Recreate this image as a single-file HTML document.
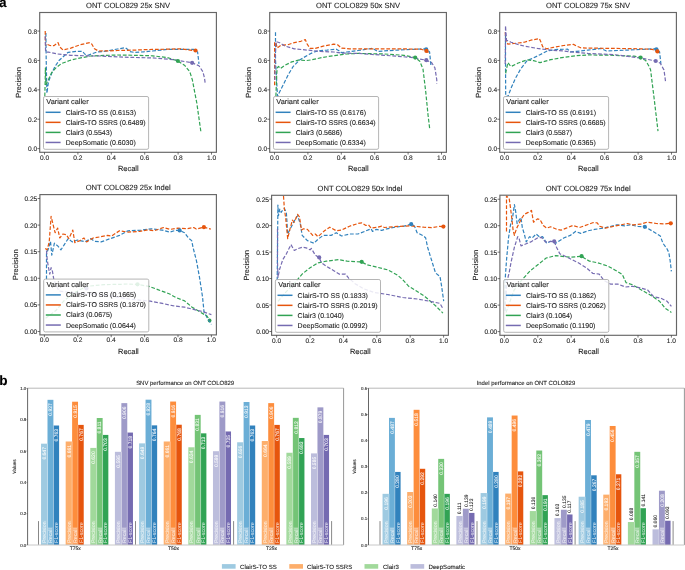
<!DOCTYPE html>
<html><head><meta charset="utf-8"><style>
html,body{margin:0;padding:0;background:#fff;}
svg{display:block;font-family:"Liberation Sans", sans-serif;text-rendering:geometricPrecision;}
</style></head><body>
<svg style="will-change:transform" width="685" height="570" viewBox="0 0 685 570" font-family='"Liberation Sans", sans-serif' fill="#222222">
<rect width="685" height="570" fill="#fff"/>
<g>
<g fill="none" stroke-width="1.2" stroke-dasharray="3.8 1.8" stroke-linejoin="round">
<path d="M45.9,33.0 L46.2,60.0 L46.9,93.2 L48.5,81.6 L51.7,73.2 L54.8,66.8 L59.0,60.5 L65.4,54.7 L68.2,52.3 L76.1,51.4 L82.7,51.4 L84.6,54.0 L87.9,55.3 L97.1,52.0 L105.3,51.2 L110.5,50.3 L117.5,49.0 L125.4,47.7 L127.1,49.0 L129.8,51.6 L135.0,52.5 L143.8,51.8 L152.5,51.0 L167.4,49.4 L193.7,49.4 L197.6,52.0 L199.0,63.9" stroke="#3182bd"/>
<path d="M45.2,31.0 L45.4,40.0 L45.6,45.5 L47.2,44.4 L50.0,45.5 L53.8,45.7 L58.0,42.6 L59.7,46.8 L63.0,50.0 L70.8,48.1 L80.0,44.8 L89.9,42.6 L91.9,44.2 L94.5,48.8 L98.4,51.0 L108.8,50.9 L117.5,50.5 L126.3,50.3 L135.0,50.1 L143.8,49.7 L152.5,49.4 L167.4,49.2 L180.6,48.8 L195.3,50.7" stroke="#e6550d"/>
<path d="M44.8,96.3 L45.2,80.0 L45.4,67.9 L45.9,84.7 L48.5,79.5 L51.7,72.6 L55.9,67.9 L61.2,63.7 L69.6,60.5 L78.0,58.4 L90.6,56.0 L100.0,55.6 L117.5,55.0 L135.0,55.3 L152.5,55.8 L167.4,57.6 L177.9,61.0 L184.5,65.2 L189.8,71.8 L192.4,80.0 L196.8,103.0 L201.0,132.6" stroke="#31a354"/>
<path d="M45.2,36.3 L45.6,52.0 L48.5,52.1 L57.7,54.0 L70.8,55.3 L90.6,56.0 L100.0,56.0 L117.5,56.9 L135.0,57.5 L152.5,57.9 L174.0,59.7 L192.1,62.8 L199.0,65.8 L202.9,71.8 L204.5,78.0 L205.2,83.4" stroke="#756bb1"/>
</g>
<circle cx="195.5" cy="50.5" r="2.1" fill="#e6550d"/>
<circle cx="177.9" cy="61.0" r="2.1" fill="#31a354"/>
<circle cx="192.1" cy="62.8" r="2.1" fill="#756bb1"/>
<rect x="43.50" y="96.50" width="105.10" height="52.80" rx="1.6" fill="#fff" fill-opacity="0.85" stroke="#adadad" stroke-width="0.9"/>
<text x="46.30" y="104.30" font-size="7.35" stroke="#222222" stroke-width="0.1">Variant caller</text>
<line x1="45.60" y1="112.30" x2="60.60" y2="112.30" stroke="#3182bd" stroke-width="1.5" />
<text x="65.70" y="114.75" font-size="7.0" stroke="#222222" stroke-width="0.1">ClairS-TO SS (0.6153)</text>
<line x1="45.60" y1="122.35" x2="60.60" y2="122.35" stroke="#e6550d" stroke-width="1.5" />
<text x="65.70" y="124.80" font-size="7.0" stroke="#222222" stroke-width="0.1">ClairS-TO SSRS (0.6489)</text>
<line x1="45.60" y1="132.40" x2="60.60" y2="132.40" stroke="#31a354" stroke-width="1.5" />
<text x="65.70" y="134.85" font-size="7.0" stroke="#222222" stroke-width="0.1">Clair3 (0.5543)</text>
<line x1="45.60" y1="142.45" x2="60.60" y2="142.45" stroke="#756bb1" stroke-width="1.5" />
<text x="65.70" y="144.90" font-size="7.0" stroke="#222222" stroke-width="0.1">DeepSomatic (0.6030)</text>
<rect x="39.70" y="12.50" width="176.70" height="139.80" fill="none" stroke="#666666" stroke-width="1.15"/>
<text x="128.05" y="8.30" font-size="7.58" stroke="#222222" stroke-width="0.1" text-anchor="middle">ONT COLO829 25x SNV</text>
<line x1="44.50" y1="152.30" x2="44.50" y2="154.60" stroke="#3a3a3a" stroke-width="0.7" />
<text x="44.50" y="159.60" font-size="6.6" stroke="#222222" stroke-width="0.1" text-anchor="middle">0.0</text>
<line x1="77.90" y1="152.30" x2="77.90" y2="154.60" stroke="#3a3a3a" stroke-width="0.7" />
<text x="77.90" y="159.60" font-size="6.6" stroke="#222222" stroke-width="0.1" text-anchor="middle">0.2</text>
<line x1="111.30" y1="152.30" x2="111.30" y2="154.60" stroke="#3a3a3a" stroke-width="0.7" />
<text x="111.30" y="159.60" font-size="6.6" stroke="#222222" stroke-width="0.1" text-anchor="middle">0.4</text>
<line x1="144.70" y1="152.30" x2="144.70" y2="154.60" stroke="#3a3a3a" stroke-width="0.7" />
<text x="144.70" y="159.60" font-size="6.6" stroke="#222222" stroke-width="0.1" text-anchor="middle">0.6</text>
<line x1="178.10" y1="152.30" x2="178.10" y2="154.60" stroke="#3a3a3a" stroke-width="0.7" />
<text x="178.10" y="159.60" font-size="6.6" stroke="#222222" stroke-width="0.1" text-anchor="middle">0.8</text>
<line x1="211.50" y1="152.30" x2="211.50" y2="154.60" stroke="#3a3a3a" stroke-width="0.7" />
<text x="211.50" y="159.60" font-size="6.6" stroke="#222222" stroke-width="0.1" text-anchor="middle">1.0</text>
<text x="128.35" y="171.00" font-size="7.45" stroke="#222222" stroke-width="0.1" text-anchor="middle">Recall</text>
<line x1="37.40" y1="148.60" x2="39.70" y2="148.60" stroke="#3a3a3a" stroke-width="0.7" />
<text x="37.10" y="151.10" font-size="6.6" stroke="#222222" stroke-width="0.1" text-anchor="end">0.0</text>
<line x1="37.40" y1="119.22" x2="39.70" y2="119.22" stroke="#3a3a3a" stroke-width="0.7" />
<text x="37.10" y="121.72" font-size="6.6" stroke="#222222" stroke-width="0.1" text-anchor="end">0.2</text>
<line x1="37.40" y1="89.84" x2="39.70" y2="89.84" stroke="#3a3a3a" stroke-width="0.7" />
<text x="37.10" y="92.34" font-size="6.6" stroke="#222222" stroke-width="0.1" text-anchor="end">0.4</text>
<line x1="37.40" y1="60.46" x2="39.70" y2="60.46" stroke="#3a3a3a" stroke-width="0.7" />
<text x="37.10" y="62.96" font-size="6.6" stroke="#222222" stroke-width="0.1" text-anchor="end">0.6</text>
<line x1="37.40" y1="31.08" x2="39.70" y2="31.08" stroke="#3a3a3a" stroke-width="0.7" />
<text x="37.10" y="33.58" font-size="6.6" stroke="#222222" stroke-width="0.1" text-anchor="end">0.8</text>
<text x="21.30" y="82.40" font-size="7.45" stroke="#222222" stroke-width="0.1" text-anchor="middle" transform="rotate(-90 21.30 82.40)">Precision</text>
</g>
<g>
<g fill="none" stroke-width="1.2" stroke-dasharray="3.8 1.8" stroke-linejoin="round">
<path d="M275.5,32.3 L275.5,60.0 L277.5,96.3 L279.8,91.6 L283.8,83.7 L288.5,74.2 L293.3,66.3 L299.6,60.0 L307.4,55.3 L314.0,52.0 L320.6,50.5 L327.1,50.1 L336.3,49.2 L339.0,50.7 L341.6,52.7 L346.8,52.0 L358.0,50.5 L372.5,48.4 L377.7,51.4 L397.4,50.1 L417.1,49.2 L426.3,48.8 L429.6,52.0 L430.9,65.2" stroke="#3182bd"/>
<path d="M274.6,85.3 L274.6,60.0 L274.6,42.8 L275.9,42.2 L277.2,48.1 L281.1,45.2 L287.7,44.8 L294.3,42.6 L300.8,41.3 L305.4,39.6 L306.8,43.5 L310.0,48.4 L315.3,48.4 L323.2,46.1 L333.7,44.2 L337.6,44.8 L341.6,48.1 L349.5,48.8 L358.0,48.8 L397.4,48.8 L421.1,49.2 L426.3,51.0 L429.6,53.4" stroke="#e6550d"/>
<path d="M275.9,96.3 L276.7,74.2 L277.2,67.8 L278.5,66.5 L280.5,68.5 L285.1,65.2 L291.7,61.9 L299.5,59.9 L306.1,60.6 L311.4,59.9 L323.2,57.3 L336.3,55.3 L346.8,54.0 L358.0,53.4 L384.3,54.0 L404.0,55.3 L415.2,57.6 L419.8,61.2 L423.0,69.1 L425.8,92.4 L428.0,114.7 L429.8,129.6" stroke="#31a354"/>
<path d="M274.8,80.0 L275.2,60.0 L275.9,41.5 L279.8,42.8 L285.1,46.1 L294.3,48.8 L307.4,50.1 L320.6,51.4 L333.7,52.0 L341.6,53.1 L358.0,53.4 L384.3,55.3 L410.6,57.3 L426.3,60.2 L431.6,62.6 L434.9,67.8 L436.8,80.0 L436.7,83.4" stroke="#756bb1"/>
</g>
<circle cx="426.2" cy="49.4" r="2.1" fill="#3182bd"/>
<circle cx="426.4" cy="50.9" r="2.1" fill="#e6550d"/>
<circle cx="415.2" cy="57.6" r="2.1" fill="#31a354"/>
<circle cx="426.3" cy="60.2" r="2.1" fill="#756bb1"/>
<rect x="273.50" y="96.50" width="105.10" height="52.80" rx="1.6" fill="#fff" fill-opacity="0.85" stroke="#adadad" stroke-width="0.9"/>
<text x="276.30" y="104.30" font-size="7.35" stroke="#222222" stroke-width="0.1">Variant caller</text>
<line x1="275.60" y1="112.30" x2="290.60" y2="112.30" stroke="#3182bd" stroke-width="1.5" />
<text x="295.70" y="114.75" font-size="7.0" stroke="#222222" stroke-width="0.1">ClairS-TO SS (0.6176)</text>
<line x1="275.60" y1="122.35" x2="290.60" y2="122.35" stroke="#e6550d" stroke-width="1.5" />
<text x="295.70" y="124.80" font-size="7.0" stroke="#222222" stroke-width="0.1">ClairS-TO SSRS (0.6634)</text>
<line x1="275.60" y1="132.40" x2="290.60" y2="132.40" stroke="#31a354" stroke-width="1.5" />
<text x="295.70" y="134.85" font-size="7.0" stroke="#222222" stroke-width="0.1">Clair3 (0.5686)</text>
<line x1="275.60" y1="142.45" x2="290.60" y2="142.45" stroke="#756bb1" stroke-width="1.5" />
<text x="295.70" y="144.90" font-size="7.0" stroke="#222222" stroke-width="0.1">DeepSomatic (0.6334)</text>
<rect x="269.70" y="12.50" width="176.70" height="139.80" fill="none" stroke="#666666" stroke-width="1.15"/>
<text x="358.05" y="8.30" font-size="7.58" stroke="#222222" stroke-width="0.1" text-anchor="middle">ONT COLO829 50x SNV</text>
<line x1="274.50" y1="152.30" x2="274.50" y2="154.60" stroke="#3a3a3a" stroke-width="0.7" />
<text x="274.50" y="159.60" font-size="6.6" stroke="#222222" stroke-width="0.1" text-anchor="middle">0.0</text>
<line x1="307.90" y1="152.30" x2="307.90" y2="154.60" stroke="#3a3a3a" stroke-width="0.7" />
<text x="307.90" y="159.60" font-size="6.6" stroke="#222222" stroke-width="0.1" text-anchor="middle">0.2</text>
<line x1="341.30" y1="152.30" x2="341.30" y2="154.60" stroke="#3a3a3a" stroke-width="0.7" />
<text x="341.30" y="159.60" font-size="6.6" stroke="#222222" stroke-width="0.1" text-anchor="middle">0.4</text>
<line x1="374.70" y1="152.30" x2="374.70" y2="154.60" stroke="#3a3a3a" stroke-width="0.7" />
<text x="374.70" y="159.60" font-size="6.6" stroke="#222222" stroke-width="0.1" text-anchor="middle">0.6</text>
<line x1="408.10" y1="152.30" x2="408.10" y2="154.60" stroke="#3a3a3a" stroke-width="0.7" />
<text x="408.10" y="159.60" font-size="6.6" stroke="#222222" stroke-width="0.1" text-anchor="middle">0.8</text>
<line x1="441.50" y1="152.30" x2="441.50" y2="154.60" stroke="#3a3a3a" stroke-width="0.7" />
<text x="441.50" y="159.60" font-size="6.6" stroke="#222222" stroke-width="0.1" text-anchor="middle">1.0</text>
<text x="358.35" y="171.00" font-size="7.45" stroke="#222222" stroke-width="0.1" text-anchor="middle">Recall</text>
<line x1="267.40" y1="148.60" x2="269.70" y2="148.60" stroke="#3a3a3a" stroke-width="0.7" />
<text x="267.10" y="151.10" font-size="6.6" stroke="#222222" stroke-width="0.1" text-anchor="end">0.0</text>
<line x1="267.40" y1="119.22" x2="269.70" y2="119.22" stroke="#3a3a3a" stroke-width="0.7" />
<text x="267.10" y="121.72" font-size="6.6" stroke="#222222" stroke-width="0.1" text-anchor="end">0.2</text>
<line x1="267.40" y1="89.84" x2="269.70" y2="89.84" stroke="#3a3a3a" stroke-width="0.7" />
<text x="267.10" y="92.34" font-size="6.6" stroke="#222222" stroke-width="0.1" text-anchor="end">0.4</text>
<line x1="267.40" y1="60.46" x2="269.70" y2="60.46" stroke="#3a3a3a" stroke-width="0.7" />
<text x="267.10" y="62.96" font-size="6.6" stroke="#222222" stroke-width="0.1" text-anchor="end">0.6</text>
<line x1="267.40" y1="31.08" x2="269.70" y2="31.08" stroke="#3a3a3a" stroke-width="0.7" />
<text x="267.10" y="33.58" font-size="6.6" stroke="#222222" stroke-width="0.1" text-anchor="end">0.8</text>
<text x="251.30" y="82.40" font-size="7.45" stroke="#222222" stroke-width="0.1" text-anchor="middle" transform="rotate(-90 251.30 82.40)">Precision</text>
</g>
<g>
<g fill="none" stroke-width="1.2" stroke-dasharray="3.8 1.8" stroke-linejoin="round">
<path d="M505.5,35.0 L505.5,60.0 L505.7,96.8 L508.2,95.8 L511.3,87.6 L515.4,78.4 L520.5,69.2 L527.6,60.0 L532.2,58.6 L540.0,54.7 L547.9,50.7 L557.1,49.4 L567.6,49.2 L570.3,51.8 L576.8,51.4 L588.0,50.1 L601.1,48.4 L606.4,51.0 L627.4,50.1 L647.1,49.2 L656.3,48.5 L659.6,52.0 L660.9,63.9" stroke="#3182bd"/>
<path d="M505.2,32.3 L505.9,40.2 L507.9,44.2 L513.8,43.5 L524.3,42.2 L530.8,40.2 L539.4,38.6 L540.7,41.5 L542.7,46.8 L546.6,48.8 L553.2,47.4 L563.7,45.5 L573.5,44.4 L576.8,46.1 L580.8,47.8 L588.0,48.1 L614.3,48.4 L640.6,48.8 L652.4,49.4 L657.0,51.4 L659.6,53.4" stroke="#e6550d"/>
<path d="M505.7,73.3 L505.9,71.8 L507.9,62.6 L509.8,65.2 L511.1,66.5 L517.7,63.2 L526.9,59.9 L533.5,60.6 L540.0,62.6 L550.6,59.7 L563.7,57.3 L576.8,55.7 L588.0,54.9 L614.3,55.3 L634.0,56.2 L640.6,57.6 L645.8,60.6 L649.8,67.8 L650.6,70.0 L654.3,99.8 L658.0,131.1" stroke="#31a354"/>
<path d="M505.2,63.9 L505.5,40.0 L505.5,25.8 L506.5,40.2 L511.1,42.2 L517.7,44.4 L524.3,46.1 L537.4,48.4 L550.6,50.1 L563.7,51.0 L571.6,52.0 L588.0,53.4 L614.3,54.7 L640.6,58.0 L655.7,61.0 L660.3,63.2 L663.5,69.1 L664.0,70.0 L665.5,81.2" stroke="#756bb1"/>
</g>
<circle cx="656.4" cy="49.3" r="2.1" fill="#3182bd"/>
<circle cx="657.4" cy="51.4" r="2.1" fill="#e6550d"/>
<circle cx="640.6" cy="57.6" r="2.1" fill="#31a354"/>
<circle cx="655.7" cy="61.0" r="2.1" fill="#756bb1"/>
<rect x="503.50" y="96.50" width="105.10" height="52.80" rx="1.6" fill="#fff" fill-opacity="0.85" stroke="#adadad" stroke-width="0.9"/>
<text x="506.30" y="104.30" font-size="7.35" stroke="#222222" stroke-width="0.1">Variant caller</text>
<line x1="505.60" y1="112.30" x2="520.60" y2="112.30" stroke="#3182bd" stroke-width="1.5" />
<text x="525.70" y="114.75" font-size="7.0" stroke="#222222" stroke-width="0.1">ClairS-TO SS (0.6191)</text>
<line x1="505.60" y1="122.35" x2="520.60" y2="122.35" stroke="#e6550d" stroke-width="1.5" />
<text x="525.70" y="124.80" font-size="7.0" stroke="#222222" stroke-width="0.1">ClairS-TO SSRS (0.6685)</text>
<line x1="505.60" y1="132.40" x2="520.60" y2="132.40" stroke="#31a354" stroke-width="1.5" />
<text x="525.70" y="134.85" font-size="7.0" stroke="#222222" stroke-width="0.1">Clair3 (0.5587)</text>
<line x1="505.60" y1="142.45" x2="520.60" y2="142.45" stroke="#756bb1" stroke-width="1.5" />
<text x="525.70" y="144.90" font-size="7.0" stroke="#222222" stroke-width="0.1">DeepSomatic (0.6365)</text>
<rect x="499.70" y="12.50" width="176.70" height="139.80" fill="none" stroke="#666666" stroke-width="1.15"/>
<text x="588.05" y="8.30" font-size="7.58" stroke="#222222" stroke-width="0.1" text-anchor="middle">ONT COLO829 75x SNV</text>
<line x1="504.50" y1="152.30" x2="504.50" y2="154.60" stroke="#3a3a3a" stroke-width="0.7" />
<text x="504.50" y="159.60" font-size="6.6" stroke="#222222" stroke-width="0.1" text-anchor="middle">0.0</text>
<line x1="537.90" y1="152.30" x2="537.90" y2="154.60" stroke="#3a3a3a" stroke-width="0.7" />
<text x="537.90" y="159.60" font-size="6.6" stroke="#222222" stroke-width="0.1" text-anchor="middle">0.2</text>
<line x1="571.30" y1="152.30" x2="571.30" y2="154.60" stroke="#3a3a3a" stroke-width="0.7" />
<text x="571.30" y="159.60" font-size="6.6" stroke="#222222" stroke-width="0.1" text-anchor="middle">0.4</text>
<line x1="604.70" y1="152.30" x2="604.70" y2="154.60" stroke="#3a3a3a" stroke-width="0.7" />
<text x="604.70" y="159.60" font-size="6.6" stroke="#222222" stroke-width="0.1" text-anchor="middle">0.6</text>
<line x1="638.10" y1="152.30" x2="638.10" y2="154.60" stroke="#3a3a3a" stroke-width="0.7" />
<text x="638.10" y="159.60" font-size="6.6" stroke="#222222" stroke-width="0.1" text-anchor="middle">0.8</text>
<line x1="671.50" y1="152.30" x2="671.50" y2="154.60" stroke="#3a3a3a" stroke-width="0.7" />
<text x="671.50" y="159.60" font-size="6.6" stroke="#222222" stroke-width="0.1" text-anchor="middle">1.0</text>
<text x="588.35" y="171.00" font-size="7.45" stroke="#222222" stroke-width="0.1" text-anchor="middle">Recall</text>
<line x1="497.40" y1="148.60" x2="499.70" y2="148.60" stroke="#3a3a3a" stroke-width="0.7" />
<text x="497.10" y="151.10" font-size="6.6" stroke="#222222" stroke-width="0.1" text-anchor="end">0.0</text>
<line x1="497.40" y1="119.22" x2="499.70" y2="119.22" stroke="#3a3a3a" stroke-width="0.7" />
<text x="497.10" y="121.72" font-size="6.6" stroke="#222222" stroke-width="0.1" text-anchor="end">0.2</text>
<line x1="497.40" y1="89.84" x2="499.70" y2="89.84" stroke="#3a3a3a" stroke-width="0.7" />
<text x="497.10" y="92.34" font-size="6.6" stroke="#222222" stroke-width="0.1" text-anchor="end">0.4</text>
<line x1="497.40" y1="60.46" x2="499.70" y2="60.46" stroke="#3a3a3a" stroke-width="0.7" />
<text x="497.10" y="62.96" font-size="6.6" stroke="#222222" stroke-width="0.1" text-anchor="end">0.6</text>
<line x1="497.40" y1="31.08" x2="499.70" y2="31.08" stroke="#3a3a3a" stroke-width="0.7" />
<text x="497.10" y="33.58" font-size="6.6" stroke="#222222" stroke-width="0.1" text-anchor="end">0.8</text>
<text x="481.30" y="82.40" font-size="7.45" stroke="#222222" stroke-width="0.1" text-anchor="middle" transform="rotate(-90 481.30 82.40)">Precision</text>
</g>
<g>
<circle cx="209.6" cy="320.5" r="1.9" fill="#31a354"/>
<g fill="none" stroke-width="1.2" stroke-dasharray="3.8 1.8" stroke-linejoin="round">
<path d="M46.5,279.4 L46.5,265.0 L46.5,253.8 L48.5,248.5 L50.5,241.3 L51.8,255.1 L54.4,243.2 L57.7,245.9 L61.0,249.8 L64.3,244.6 L68.2,238.6 L72.2,241.9 L77.4,240.0 L85.3,241.7 L90.6,238.6 L94.5,241.3 L101.1,241.9 L110.3,238.6 L119.5,235.4 L128.0,230.8 L141.1,230.1 L151.7,228.8 L162.2,230.1 L170.0,232.1 L175.3,230.4 L179.6,230.4 L184.5,232.7 L188.4,238.0 L191.7,240.6 L193.0,247.2 L196.5,261.0 L199.5,277.4 L202.5,296.7 L204.0,311.6 L207.0,317.6 L211.4,324.3" stroke="#3182bd"/>
<path d="M45.2,248.5 L47.2,249.8 L49.2,242.0 L51.1,216.3 L52.5,222.2 L55.1,232.7 L57.7,228.1 L59.7,238.0 L63.0,234.0 L66.2,234.7 L68.9,238.6 L72.8,230.1 L74.8,242.6 L80.0,240.6 L84.0,238.0 L86.6,241.9 L93.2,238.0 L101.1,236.7 L107.6,235.4 L111.6,236.0 L119.5,230.8 L128.0,232.1 L139.8,231.4 L147.7,229.8 L154.3,230.8 L163.5,227.5 L170.0,229.4 L177.9,228.1 L187.1,228.8 L193.7,227.5 L196.3,229.1 L203.9,227.2 L210.8,229.1" stroke="#e6550d"/>
<path d="M45.6,318.3 L56.1,310.3 L64.1,300.7 L72.1,294.3 L80.1,289.5 L88.2,286.2 L104.2,284.6 L120.3,284.3 L128.0,284.0 L137.7,284.5 L148.9,286.3 L157.8,289.6 L169.7,294.0 L175.7,297.5 L184.6,300.9 L192.1,307.2 L199.5,311.6 L207.0,316.1 L210.0,320.6" stroke="#31a354"/>
<path d="M46.5,250.5 L47.2,259.7 L48.5,267.6 L49.8,274.2 L51.1,267.6 L52.5,271.5 L53.8,279.4 L57.7,288.6 L59.3,291.0 L72.1,292.7 L88.2,293.5 L104.2,295.1 L120.3,297.5 L128.0,299.0 L150.4,301.2 L162.3,303.4 L172.7,305.7 L184.6,307.2 L193.6,309.4 L202.5,311.6 L211.4,314.6" stroke="#756bb1"/>
</g>
<circle cx="86.5" cy="288.5" r="2.1" fill="#756bb1"/>
<circle cx="137.5" cy="284.3" r="2.1" fill="#31a354"/>
<circle cx="179.6" cy="230.4" r="2.1" fill="#3182bd"/>
<circle cx="203.9" cy="227.2" r="2.1" fill="#e6550d"/>
<rect x="43.70" y="279.10" width="105.10" height="52.80" rx="1.6" fill="#fff" fill-opacity="0.85" stroke="#adadad" stroke-width="0.9"/>
<text x="46.50" y="286.90" font-size="7.35" stroke="#222222" stroke-width="0.1">Variant caller</text>
<line x1="45.80" y1="294.90" x2="60.80" y2="294.90" stroke="#3182bd" stroke-width="1.5" />
<text x="65.90" y="297.35" font-size="7.0" stroke="#222222" stroke-width="0.1">ClairS-TO SS (0.1665)</text>
<line x1="45.80" y1="304.95" x2="60.80" y2="304.95" stroke="#e6550d" stroke-width="1.5" />
<text x="65.90" y="307.40" font-size="7.0" stroke="#222222" stroke-width="0.1">ClairS-TO SSRS (0.1870)</text>
<line x1="45.80" y1="315.00" x2="60.80" y2="315.00" stroke="#31a354" stroke-width="1.5" />
<text x="65.90" y="317.45" font-size="7.0" stroke="#222222" stroke-width="0.1">Clair3 (0.0675)</text>
<line x1="45.80" y1="325.05" x2="60.80" y2="325.05" stroke="#756bb1" stroke-width="1.5" />
<text x="65.90" y="327.50" font-size="7.0" stroke="#222222" stroke-width="0.1">DeepSomatic (0.0644)</text>
<rect x="39.90" y="194.60" width="176.50" height="140.30" fill="none" stroke="#666666" stroke-width="1.15"/>
<text x="128.15" y="190.40" font-size="7.58" stroke="#222222" stroke-width="0.1" text-anchor="middle">ONT COLO829 25x Indel</text>
<line x1="44.40" y1="334.90" x2="44.40" y2="337.20" stroke="#3a3a3a" stroke-width="0.7" />
<text x="44.40" y="342.20" font-size="6.6" stroke="#222222" stroke-width="0.1" text-anchor="middle">0.0</text>
<line x1="77.80" y1="334.90" x2="77.80" y2="337.20" stroke="#3a3a3a" stroke-width="0.7" />
<text x="77.80" y="342.20" font-size="6.6" stroke="#222222" stroke-width="0.1" text-anchor="middle">0.2</text>
<line x1="111.20" y1="334.90" x2="111.20" y2="337.20" stroke="#3a3a3a" stroke-width="0.7" />
<text x="111.20" y="342.20" font-size="6.6" stroke="#222222" stroke-width="0.1" text-anchor="middle">0.4</text>
<line x1="144.60" y1="334.90" x2="144.60" y2="337.20" stroke="#3a3a3a" stroke-width="0.7" />
<text x="144.60" y="342.20" font-size="6.6" stroke="#222222" stroke-width="0.1" text-anchor="middle">0.6</text>
<line x1="178.00" y1="334.90" x2="178.00" y2="337.20" stroke="#3a3a3a" stroke-width="0.7" />
<text x="178.00" y="342.20" font-size="6.6" stroke="#222222" stroke-width="0.1" text-anchor="middle">0.8</text>
<line x1="211.40" y1="334.90" x2="211.40" y2="337.20" stroke="#3a3a3a" stroke-width="0.7" />
<text x="211.40" y="342.20" font-size="6.6" stroke="#222222" stroke-width="0.1" text-anchor="middle">1.0</text>
<text x="128.45" y="353.60" font-size="7.45" stroke="#222222" stroke-width="0.1" text-anchor="middle">Recall</text>
<line x1="37.60" y1="331.50" x2="39.90" y2="331.50" stroke="#3a3a3a" stroke-width="0.7" />
<text x="37.30" y="334.00" font-size="6.6" stroke="#222222" stroke-width="0.1" text-anchor="end">0.00</text>
<line x1="37.60" y1="304.90" x2="39.90" y2="304.90" stroke="#3a3a3a" stroke-width="0.7" />
<text x="37.30" y="307.40" font-size="6.6" stroke="#222222" stroke-width="0.1" text-anchor="end">0.05</text>
<line x1="37.60" y1="278.30" x2="39.90" y2="278.30" stroke="#3a3a3a" stroke-width="0.7" />
<text x="37.30" y="280.80" font-size="6.6" stroke="#222222" stroke-width="0.1" text-anchor="end">0.10</text>
<line x1="37.60" y1="251.70" x2="39.90" y2="251.70" stroke="#3a3a3a" stroke-width="0.7" />
<text x="37.30" y="254.20" font-size="6.6" stroke="#222222" stroke-width="0.1" text-anchor="end">0.15</text>
<line x1="37.60" y1="225.10" x2="39.90" y2="225.10" stroke="#3a3a3a" stroke-width="0.7" />
<text x="37.30" y="227.60" font-size="6.6" stroke="#222222" stroke-width="0.1" text-anchor="end">0.20</text>
<line x1="37.60" y1="198.50" x2="39.90" y2="198.50" stroke="#3a3a3a" stroke-width="0.7" />
<text x="37.30" y="201.00" font-size="6.6" stroke="#222222" stroke-width="0.1" text-anchor="end">0.25</text>
<text x="17.60" y="264.75" font-size="7.45" stroke="#222222" stroke-width="0.1" text-anchor="middle" transform="rotate(-90 17.60 264.75)">Precision</text>
</g>
<g>
<g fill="none" stroke-width="1.2" stroke-dasharray="3.8 1.8" stroke-linejoin="round">
<path d="M277.2,280.5 L277.5,250.0 L277.9,205.0 L278.5,215.7 L279.8,209.1 L281.1,212.4 L282.5,210.4 L284.4,208.4 L286.4,213.0 L287.7,234.0 L290.3,228.8 L294.3,220.9 L297.6,215.7 L300.2,223.5 L302.2,235.4 L307.4,240.6 L314.0,243.2 L317.9,239.3 L323.2,235.4 L331.1,235.4 L336.3,232.7 L341.6,236.0 L349.5,234.0 L358.0,234.0 L364.6,231.4 L371.1,228.8 L372.5,231.4 L376.4,229.4 L381.7,230.4 L386.9,228.8 L397.4,226.8 L404.0,226.2 L411.2,224.2 L414.5,226.2 L417.1,232.7 L423.7,236.0 L425.7,238.0 L427.6,247.2 L431.6,260.3 L435.5,272.9 L440.0,276.6 L441.4,284.8 L443.7,301.2" stroke="#3182bd"/>
<path d="M283.5,196.0 L284.4,209.0 L285.7,218.3 L287.7,238.6 L289.7,230.1 L292.3,220.2 L294.3,222.2 L297.6,214.3 L299.5,217.0 L301.5,230.1 L303.5,228.8 L307.4,229.4 L312.7,235.4 L315.3,234.0 L317.9,236.7 L324.5,230.8 L329.8,227.2 L336.3,230.8 L341.6,230.1 L349.5,226.2 L358.0,223.5 L361.9,222.9 L365.9,225.5 L368.5,224.8 L371.1,228.1 L377.7,227.2 L381.7,226.2 L384.3,227.5 L397.4,226.4 L410.6,225.9 L415.8,226.4 L423.7,227.2 L431.6,227.7 L439.5,226.4 L443.4,226.6" stroke="#e6550d"/>
<path d="M278.0,301.4 L286.1,291.8 L294.1,283.7 L302.1,274.1 L310.1,267.7 L318.2,262.8 L326.2,261.2 L339.1,259.6 L347.1,261.2 L361.5,262.0 L366.9,264.7 L375.9,266.9 L387.8,269.9 L397.5,275.1 L402.7,279.6 L408.7,286.3 L416.1,290.8 L425.1,296.7 L435.5,305.7 L442.9,313.1" stroke="#31a354"/>
<path d="M277.5,228.8 L277.5,262.0 L278.0,277.3 L279.6,269.3 L282.8,259.6 L286.4,253.8 L291.0,244.6 L294.3,250.5 L298.2,248.5 L302.2,247.2 L306.1,247.8 L310.0,249.8 L311.4,248.5 L315.3,255.1 L319.2,257.7 L321.4,262.8 L326.2,266.1 L334.2,270.9 L339.1,274.1 L345.5,274.1 L348.7,278.1 L355.1,283.7 L363.1,288.5 L374.4,292.6 L387.8,294.5 L402.7,297.5 L417.6,299.0 L429.5,301.2 L440.0,303.4 L442.9,308.6" stroke="#756bb1"/>
</g>
<circle cx="411.2" cy="224.2" r="2.1" fill="#3182bd"/>
<circle cx="443.4" cy="226.6" r="2.1" fill="#e6550d"/>
<circle cx="361.7" cy="261.8" r="2.1" fill="#31a354"/>
<circle cx="319.2" cy="257.4" r="2.1" fill="#756bb1"/>
<rect x="275.40" y="279.50" width="105.10" height="52.80" rx="1.6" fill="#fff" fill-opacity="0.85" stroke="#adadad" stroke-width="0.9"/>
<text x="278.20" y="287.30" font-size="7.35" stroke="#222222" stroke-width="0.1">Variant caller</text>
<line x1="277.50" y1="295.30" x2="292.50" y2="295.30" stroke="#3182bd" stroke-width="1.5" />
<text x="297.60" y="297.75" font-size="7.0" stroke="#222222" stroke-width="0.1">ClairS-TO SS (0.1833)</text>
<line x1="277.50" y1="305.35" x2="292.50" y2="305.35" stroke="#e6550d" stroke-width="1.5" />
<text x="297.60" y="307.80" font-size="7.0" stroke="#222222" stroke-width="0.1">ClairS-TO SSRS (0.2019)</text>
<line x1="277.50" y1="315.40" x2="292.50" y2="315.40" stroke="#31a354" stroke-width="1.5" />
<text x="297.60" y="317.85" font-size="7.0" stroke="#222222" stroke-width="0.1">Clair3 (0.1040)</text>
<line x1="277.50" y1="325.45" x2="292.50" y2="325.45" stroke="#756bb1" stroke-width="1.5" />
<text x="297.60" y="327.90" font-size="7.0" stroke="#222222" stroke-width="0.1">DeepSomatic (0.0992)</text>
<rect x="271.60" y="195.30" width="176.80" height="140.00" fill="none" stroke="#666666" stroke-width="1.15"/>
<text x="360.00" y="191.10" font-size="7.58" stroke="#222222" stroke-width="0.1" text-anchor="middle">ONT COLO829 50x Indel</text>
<line x1="276.60" y1="335.30" x2="276.60" y2="337.60" stroke="#3a3a3a" stroke-width="0.7" />
<text x="276.60" y="342.60" font-size="6.6" stroke="#222222" stroke-width="0.1" text-anchor="middle">0.0</text>
<line x1="310.00" y1="335.30" x2="310.00" y2="337.60" stroke="#3a3a3a" stroke-width="0.7" />
<text x="310.00" y="342.60" font-size="6.6" stroke="#222222" stroke-width="0.1" text-anchor="middle">0.2</text>
<line x1="343.40" y1="335.30" x2="343.40" y2="337.60" stroke="#3a3a3a" stroke-width="0.7" />
<text x="343.40" y="342.60" font-size="6.6" stroke="#222222" stroke-width="0.1" text-anchor="middle">0.4</text>
<line x1="376.80" y1="335.30" x2="376.80" y2="337.60" stroke="#3a3a3a" stroke-width="0.7" />
<text x="376.80" y="342.60" font-size="6.6" stroke="#222222" stroke-width="0.1" text-anchor="middle">0.6</text>
<line x1="410.20" y1="335.30" x2="410.20" y2="337.60" stroke="#3a3a3a" stroke-width="0.7" />
<text x="410.20" y="342.60" font-size="6.6" stroke="#222222" stroke-width="0.1" text-anchor="middle">0.8</text>
<line x1="443.60" y1="335.30" x2="443.60" y2="337.60" stroke="#3a3a3a" stroke-width="0.7" />
<text x="443.60" y="342.60" font-size="6.6" stroke="#222222" stroke-width="0.1" text-anchor="middle">1.0</text>
<text x="360.30" y="354.00" font-size="7.45" stroke="#222222" stroke-width="0.1" text-anchor="middle">Recall</text>
<line x1="269.30" y1="331.50" x2="271.60" y2="331.50" stroke="#3a3a3a" stroke-width="0.7" />
<text x="269.00" y="334.00" font-size="6.6" stroke="#222222" stroke-width="0.1" text-anchor="end">0.00</text>
<line x1="269.30" y1="305.02" x2="271.60" y2="305.02" stroke="#3a3a3a" stroke-width="0.7" />
<text x="269.00" y="307.52" font-size="6.6" stroke="#222222" stroke-width="0.1" text-anchor="end">0.05</text>
<line x1="269.30" y1="278.55" x2="271.60" y2="278.55" stroke="#3a3a3a" stroke-width="0.7" />
<text x="269.00" y="281.05" font-size="6.6" stroke="#222222" stroke-width="0.1" text-anchor="end">0.10</text>
<line x1="269.30" y1="252.07" x2="271.60" y2="252.07" stroke="#3a3a3a" stroke-width="0.7" />
<text x="269.00" y="254.57" font-size="6.6" stroke="#222222" stroke-width="0.1" text-anchor="end">0.15</text>
<line x1="269.30" y1="225.60" x2="271.60" y2="225.60" stroke="#3a3a3a" stroke-width="0.7" />
<text x="269.00" y="228.10" font-size="6.6" stroke="#222222" stroke-width="0.1" text-anchor="end">0.20</text>
<line x1="269.30" y1="199.12" x2="271.60" y2="199.12" stroke="#3a3a3a" stroke-width="0.7" />
<text x="269.00" y="201.62" font-size="6.6" stroke="#222222" stroke-width="0.1" text-anchor="end">0.25</text>
<text x="249.30" y="265.30" font-size="7.45" stroke="#222222" stroke-width="0.1" text-anchor="middle" transform="rotate(-90 249.30 265.30)">Precision</text>
</g>
<g>
<g fill="none" stroke-width="1.2" stroke-dasharray="3.8 1.8" stroke-linejoin="round">
<path d="M505.2,311.0 L505.2,278.9 L506.5,260.3 L508.5,238.0 L510.5,224.8 L512.5,218.3 L514.4,204.5 L515.7,211.7 L517.1,223.5 L519.0,220.2 L521.0,217.6 L522.3,227.5 L524.3,234.0 L526.2,241.9 L529.5,236.7 L532.2,238.0 L536.1,234.0 L540.0,237.3 L542.7,236.7 L546.6,243.2 L550.6,241.3 L555.8,243.2 L563.7,238.0 L570.3,235.4 L575.5,231.4 L580.8,233.4 L588.0,230.8 L594.6,229.4 L603.8,228.1 L616.9,224.8 L624.8,225.9 L630.0,224.8 L637.9,226.4 L644.8,226.8 L648.4,228.8 L656.3,233.4 L660.3,236.0 L662.9,243.2 L666.8,248.5 L668.8,252.4 L670.1,260.3 L671.4,271.4" stroke="#3182bd"/>
<path d="M506.5,231.4 L506.5,210.0 L506.5,196.0 L509.2,198.6 L510.5,207.8 L511.8,218.3 L513.1,230.1 L514.4,235.4 L516.4,228.8 L519.0,223.5 L521.7,218.3 L524.3,214.3 L528.2,212.4 L531.5,210.4 L533.5,222.2 L537.4,218.9 L540.0,219.6 L543.3,225.5 L546.6,228.1 L550.6,226.8 L557.1,229.4 L561.1,230.1 L566.3,228.1 L572.9,225.5 L579.5,227.5 L588.0,224.5 L593.3,222.5 L597.2,222.9 L599.8,226.2 L605.1,228.1 L614.3,226.2 L627.4,223.5 L632.7,224.8 L640.6,224.2 L647.1,222.2 L656.3,223.5 L664.2,223.9 L670.8,223.3" stroke="#e6550d"/>
<path d="M506.0,312.6 L514.1,290.1 L522.1,279.7 L530.1,270.9 L538.1,264.5 L546.2,258.0 L555.8,255.6 L562.2,256.4 L570.3,257.2 L581.5,256.4 L589.5,261.2 L597.6,262.8 L608.0,266.1 L614.8,269.9 L622.3,274.4 L626.0,282.6 L632.7,284.8 L640.2,289.3 L650.6,295.2 L659.5,301.2 L665.5,308.6 L671.4,312.4" stroke="#31a354"/>
<path d="M506.0,300.0 L506.8,282.1 L509.2,272.5 L511.1,262.0 L514.4,247.2 L517.7,236.7 L519.0,238.0 L521.0,245.9 L524.3,244.6 L530.8,241.9 L537.4,238.0 L541.4,237.3 L545.3,241.9 L554.2,241.3 L556.5,247.2 L559.8,253.8 L562.2,254.8 L568.7,258.0 L578.3,262.8 L586.3,267.7 L592.7,273.3 L599.2,274.1 L604.0,280.5 L610.4,284.1 L617.8,284.1 L625.3,287.0 L632.7,286.3 L640.2,287.8 L647.6,290.0 L653.6,296.7 L661.0,298.2 L667.0,301.2 L671.4,306.4" stroke="#756bb1"/>
</g>
<circle cx="644.8" cy="226.8" r="2.1" fill="#3182bd"/>
<circle cx="670.8" cy="223.3" r="2.1" fill="#e6550d"/>
<circle cx="581.6" cy="256.2" r="2.1" fill="#31a354"/>
<circle cx="554.2" cy="241.3" r="2.1" fill="#756bb1"/>
<rect x="503.70" y="279.50" width="105.10" height="52.80" rx="1.6" fill="#fff" fill-opacity="0.85" stroke="#adadad" stroke-width="0.9"/>
<text x="506.50" y="287.30" font-size="7.35" stroke="#222222" stroke-width="0.1">Variant caller</text>
<line x1="505.80" y1="295.30" x2="520.80" y2="295.30" stroke="#3182bd" stroke-width="1.5" />
<text x="525.90" y="297.75" font-size="7.0" stroke="#222222" stroke-width="0.1">ClairS-TO SS (0.1862)</text>
<line x1="505.80" y1="305.35" x2="520.80" y2="305.35" stroke="#e6550d" stroke-width="1.5" />
<text x="525.90" y="307.80" font-size="7.0" stroke="#222222" stroke-width="0.1">ClairS-TO SSRS (0.2062)</text>
<line x1="505.80" y1="315.40" x2="520.80" y2="315.40" stroke="#31a354" stroke-width="1.5" />
<text x="525.90" y="317.85" font-size="7.0" stroke="#222222" stroke-width="0.1">Clair3 (0.1064)</text>
<line x1="505.80" y1="325.45" x2="520.80" y2="325.45" stroke="#756bb1" stroke-width="1.5" />
<text x="525.90" y="327.90" font-size="7.0" stroke="#222222" stroke-width="0.1">DeepSomatic (0.1190)</text>
<rect x="499.90" y="195.20" width="176.60" height="140.10" fill="none" stroke="#666666" stroke-width="1.15"/>
<text x="588.20" y="191.00" font-size="7.58" stroke="#222222" stroke-width="0.1" text-anchor="middle">ONT COLO829 75x Indel</text>
<line x1="504.40" y1="335.30" x2="504.40" y2="337.60" stroke="#3a3a3a" stroke-width="0.7" />
<text x="504.40" y="342.60" font-size="6.6" stroke="#222222" stroke-width="0.1" text-anchor="middle">0.0</text>
<line x1="537.80" y1="335.30" x2="537.80" y2="337.60" stroke="#3a3a3a" stroke-width="0.7" />
<text x="537.80" y="342.60" font-size="6.6" stroke="#222222" stroke-width="0.1" text-anchor="middle">0.2</text>
<line x1="571.20" y1="335.30" x2="571.20" y2="337.60" stroke="#3a3a3a" stroke-width="0.7" />
<text x="571.20" y="342.60" font-size="6.6" stroke="#222222" stroke-width="0.1" text-anchor="middle">0.4</text>
<line x1="604.60" y1="335.30" x2="604.60" y2="337.60" stroke="#3a3a3a" stroke-width="0.7" />
<text x="604.60" y="342.60" font-size="6.6" stroke="#222222" stroke-width="0.1" text-anchor="middle">0.6</text>
<line x1="638.00" y1="335.30" x2="638.00" y2="337.60" stroke="#3a3a3a" stroke-width="0.7" />
<text x="638.00" y="342.60" font-size="6.6" stroke="#222222" stroke-width="0.1" text-anchor="middle">0.8</text>
<line x1="671.40" y1="335.30" x2="671.40" y2="337.60" stroke="#3a3a3a" stroke-width="0.7" />
<text x="671.40" y="342.60" font-size="6.6" stroke="#222222" stroke-width="0.1" text-anchor="middle">1.0</text>
<text x="588.50" y="354.00" font-size="7.45" stroke="#222222" stroke-width="0.1" text-anchor="middle">Recall</text>
<line x1="497.60" y1="331.60" x2="499.90" y2="331.60" stroke="#3a3a3a" stroke-width="0.7" />
<text x="497.30" y="334.10" font-size="6.6" stroke="#222222" stroke-width="0.1" text-anchor="end">0.00</text>
<line x1="497.60" y1="305.12" x2="499.90" y2="305.12" stroke="#3a3a3a" stroke-width="0.7" />
<text x="497.30" y="307.62" font-size="6.6" stroke="#222222" stroke-width="0.1" text-anchor="end">0.05</text>
<line x1="497.60" y1="278.65" x2="499.90" y2="278.65" stroke="#3a3a3a" stroke-width="0.7" />
<text x="497.30" y="281.15" font-size="6.6" stroke="#222222" stroke-width="0.1" text-anchor="end">0.10</text>
<line x1="497.60" y1="252.18" x2="499.90" y2="252.18" stroke="#3a3a3a" stroke-width="0.7" />
<text x="497.30" y="254.68" font-size="6.6" stroke="#222222" stroke-width="0.1" text-anchor="end">0.15</text>
<line x1="497.60" y1="225.70" x2="499.90" y2="225.70" stroke="#3a3a3a" stroke-width="0.7" />
<text x="497.30" y="228.20" font-size="6.6" stroke="#222222" stroke-width="0.1" text-anchor="end">0.20</text>
<line x1="497.60" y1="199.23" x2="499.90" y2="199.23" stroke="#3a3a3a" stroke-width="0.7" />
<text x="497.30" y="201.73" font-size="6.6" stroke="#222222" stroke-width="0.1" text-anchor="end">0.25</text>
<text x="477.60" y="265.25" font-size="7.45" stroke="#222222" stroke-width="0.1" text-anchor="middle" transform="rotate(-90 477.60 265.25)">Precision</text>
</g>
<text x="-1.00" y="6.80" font-size="13.6" stroke="#000" stroke-width="0.1" fill="#000" font-weight="bold">a</text>
<text x="-0.80" y="384.70" font-size="13.6" stroke="#000" stroke-width="0.1" fill="#000" font-weight="bold">b</text>
<line x1="27.60" y1="388.20" x2="343.60" y2="388.20" stroke="#b0b0b0" stroke-width="0.9" />
<line x1="343.60" y1="388.20" x2="343.60" y2="545.00" stroke="#8a8a8a" stroke-width="0.9" />
<line x1="38.50" y1="521.10" x2="38.50" y2="545.00" stroke="#6a6a6a" stroke-width="0.8" />
<line x1="135.50" y1="521.10" x2="135.50" y2="545.00" stroke="#6a6a6a" stroke-width="0.8" />
<line x1="233.60" y1="521.10" x2="233.60" y2="545.00" stroke="#6a6a6a" stroke-width="0.8" />
<line x1="331.60" y1="521.10" x2="331.60" y2="545.00" stroke="#6a6a6a" stroke-width="0.8" />
<rect x="41.05" y="443.68" width="6.45" height="101.32" fill="#9ecae1" />
<rect x="47.50" y="399.83" width="5.90" height="145.17" fill="#6baed6" />
<rect x="53.40" y="425.51" width="5.70" height="119.49" fill="#3182bd" />
<rect x="47.10" y="443.68" width="0.80" height="101.32" fill="#ffffff" fill-opacity="0.4"/>
<rect x="53.00" y="425.51" width="0.80" height="119.49" fill="#ffffff" fill-opacity="0.4"/>
<text x="46.02" y="447.08" font-size="5.0" stroke="#ffffff" stroke-width="0.08" stroke-opacity="0.95" text-anchor="end" fill="#ffffff" transform="rotate(-90 46.02 447.08)" fill-opacity="0.95">0.647</text>
<rect x="41.82" y="520.11" width="4.90" height="24.69" fill="#ffffff" fill-opacity="0.08"/>
<text x="46.16" y="543.00" font-size="5.25" fill="#ffffff" transform="rotate(-90 46.16 543.00)" fill-opacity="0.85">Precision</text>
<text x="52.20" y="403.23" font-size="5.0" stroke="#ffffff" stroke-width="0.08" stroke-opacity="0.95" text-anchor="end" fill="#ffffff" transform="rotate(-90 52.20 403.23)" fill-opacity="0.95">0.927</text>
<rect x="48.00" y="527.11" width="4.90" height="17.69" fill="#ffffff" fill-opacity="0.2"/>
<text x="52.34" y="543.00" font-size="5.25" fill="#ffffff" transform="rotate(-90 52.34 543.00)" fill-opacity="0.85">Recall</text>
<text x="58.00" y="428.91" font-size="5.0" stroke="#ffffff" stroke-width="0.08" stroke-opacity="0.95" text-anchor="end" fill="#ffffff" transform="rotate(-90 58.00 428.91)" fill-opacity="0.95">0.763</text>
<text x="58.14" y="543.00" font-size="5.25" fill="#ffffff" transform="rotate(-90 58.14 543.00)" fill-opacity="0.85">F1-score</text>
<rect x="65.67" y="441.49" width="6.45" height="103.51" fill="#fdae6b" />
<rect x="72.12" y="401.71" width="5.90" height="143.29" fill="#fd8d3c" />
<rect x="78.02" y="424.89" width="5.70" height="120.11" fill="#e6550d" />
<rect x="71.72" y="441.49" width="0.80" height="103.51" fill="#ffffff" fill-opacity="0.4"/>
<rect x="77.62" y="424.89" width="0.80" height="120.11" fill="#ffffff" fill-opacity="0.4"/>
<text x="70.64" y="444.89" font-size="5.0" stroke="#ffffff" stroke-width="0.08" stroke-opacity="0.95" text-anchor="end" fill="#ffffff" transform="rotate(-90 70.64 444.89)" fill-opacity="0.95">0.661</text>
<rect x="66.44" y="520.11" width="4.90" height="24.69" fill="#ffffff" fill-opacity="0.08"/>
<text x="70.78" y="543.00" font-size="5.25" fill="#ffffff" transform="rotate(-90 70.78 543.00)" fill-opacity="0.85">Precision</text>
<text x="76.82" y="405.11" font-size="5.0" stroke="#ffffff" stroke-width="0.08" stroke-opacity="0.95" text-anchor="end" fill="#ffffff" transform="rotate(-90 76.82 405.11)" fill-opacity="0.95">0.915</text>
<rect x="72.62" y="527.11" width="4.90" height="17.69" fill="#ffffff" fill-opacity="0.2"/>
<text x="76.96" y="543.00" font-size="5.25" fill="#ffffff" transform="rotate(-90 76.96 543.00)" fill-opacity="0.85">Recall</text>
<text x="82.62" y="428.29" font-size="5.0" stroke="#ffffff" stroke-width="0.08" stroke-opacity="0.95" text-anchor="end" fill="#ffffff" transform="rotate(-90 82.62 428.29)" fill-opacity="0.95">0.767</text>
<text x="82.76" y="543.00" font-size="5.25" fill="#ffffff" transform="rotate(-90 82.76 543.00)" fill-opacity="0.85">F1-score</text>
<rect x="90.29" y="447.91" width="6.45" height="97.09" fill="#a1d99b" />
<rect x="96.74" y="418.00" width="5.90" height="127.00" fill="#74c476" />
<rect x="102.64" y="434.91" width="5.70" height="110.09" fill="#31a354" />
<rect x="96.34" y="447.91" width="0.80" height="97.09" fill="#ffffff" fill-opacity="0.4"/>
<rect x="102.24" y="434.91" width="0.80" height="110.09" fill="#ffffff" fill-opacity="0.4"/>
<text x="95.26" y="451.31" font-size="5.0" stroke="#ffffff" stroke-width="0.08" stroke-opacity="0.95" text-anchor="end" fill="#ffffff" transform="rotate(-90 95.26 451.31)" fill-opacity="0.95">0.620</text>
<rect x="91.06" y="520.11" width="4.90" height="24.69" fill="#ffffff" fill-opacity="0.08"/>
<text x="95.40" y="543.00" font-size="5.25" fill="#ffffff" transform="rotate(-90 95.40 543.00)" fill-opacity="0.85">Precision</text>
<text x="101.44" y="421.40" font-size="5.0" stroke="#ffffff" stroke-width="0.08" stroke-opacity="0.95" text-anchor="end" fill="#ffffff" transform="rotate(-90 101.44 421.40)" fill-opacity="0.95">0.811</text>
<rect x="97.24" y="527.11" width="4.90" height="17.69" fill="#ffffff" fill-opacity="0.2"/>
<text x="101.58" y="543.00" font-size="5.25" fill="#ffffff" transform="rotate(-90 101.58 543.00)" fill-opacity="0.85">Recall</text>
<text x="107.24" y="438.31" font-size="5.0" stroke="#ffffff" stroke-width="0.08" stroke-opacity="0.95" text-anchor="end" fill="#ffffff" transform="rotate(-90 107.24 438.31)" fill-opacity="0.95">0.703</text>
<text x="107.38" y="543.00" font-size="5.25" fill="#ffffff" transform="rotate(-90 107.38 543.00)" fill-opacity="0.85">F1-score</text>
<rect x="114.91" y="451.82" width="6.45" height="93.18" fill="#bcbddc" />
<rect x="121.36" y="403.12" width="5.90" height="141.88" fill="#9e9ac8" />
<rect x="127.26" y="432.56" width="5.70" height="112.44" fill="#756bb1" />
<rect x="120.96" y="451.82" width="0.80" height="93.18" fill="#ffffff" fill-opacity="0.4"/>
<rect x="126.86" y="432.56" width="0.80" height="112.44" fill="#ffffff" fill-opacity="0.4"/>
<text x="119.88" y="455.22" font-size="5.0" stroke="#ffffff" stroke-width="0.08" stroke-opacity="0.95" text-anchor="end" fill="#ffffff" transform="rotate(-90 119.88 455.22)" fill-opacity="0.95">0.595</text>
<rect x="115.68" y="520.11" width="4.90" height="24.69" fill="#ffffff" fill-opacity="0.08"/>
<text x="120.02" y="543.00" font-size="5.25" fill="#ffffff" transform="rotate(-90 120.02 543.00)" fill-opacity="0.85">Precision</text>
<text x="126.06" y="406.52" font-size="5.0" stroke="#ffffff" stroke-width="0.08" stroke-opacity="0.95" text-anchor="end" fill="#ffffff" transform="rotate(-90 126.06 406.52)" fill-opacity="0.95">0.906</text>
<rect x="121.86" y="527.11" width="4.90" height="17.69" fill="#ffffff" fill-opacity="0.2"/>
<text x="126.20" y="543.00" font-size="5.25" fill="#ffffff" transform="rotate(-90 126.20 543.00)" fill-opacity="0.85">Recall</text>
<text x="131.86" y="435.96" font-size="5.0" stroke="#ffffff" stroke-width="0.08" stroke-opacity="0.95" text-anchor="end" fill="#ffffff" transform="rotate(-90 131.86 435.96)" fill-opacity="0.95">0.718</text>
<text x="132.00" y="543.00" font-size="5.25" fill="#ffffff" transform="rotate(-90 132.00 543.00)" fill-opacity="0.85">F1-score</text>
<text x="75.35" y="549.50" font-size="4.95" stroke="#222222" stroke-width="0.1" text-anchor="middle">T75x</text>
<rect x="139.10" y="443.37" width="6.45" height="101.63" fill="#9ecae1" />
<rect x="145.55" y="399.68" width="5.90" height="145.32" fill="#6baed6" />
<rect x="151.45" y="425.36" width="5.70" height="119.64" fill="#3182bd" />
<rect x="145.15" y="443.37" width="0.80" height="101.63" fill="#ffffff" fill-opacity="0.4"/>
<rect x="151.05" y="425.36" width="0.80" height="119.64" fill="#ffffff" fill-opacity="0.4"/>
<text x="144.07" y="446.77" font-size="5.0" stroke="#ffffff" stroke-width="0.08" stroke-opacity="0.95" text-anchor="end" fill="#ffffff" transform="rotate(-90 144.07 446.77)" fill-opacity="0.95">0.649</text>
<rect x="139.88" y="520.11" width="4.90" height="24.69" fill="#ffffff" fill-opacity="0.08"/>
<text x="144.21" y="543.00" font-size="5.25" fill="#ffffff" transform="rotate(-90 144.21 543.00)" fill-opacity="0.85">Precision</text>
<text x="150.25" y="403.08" font-size="5.0" stroke="#ffffff" stroke-width="0.08" stroke-opacity="0.95" text-anchor="end" fill="#ffffff" transform="rotate(-90 150.25 403.08)" fill-opacity="0.95">0.928</text>
<rect x="146.05" y="527.11" width="4.90" height="17.69" fill="#ffffff" fill-opacity="0.2"/>
<text x="150.39" y="543.00" font-size="5.25" fill="#ffffff" transform="rotate(-90 150.39 543.00)" fill-opacity="0.85">Recall</text>
<text x="156.05" y="428.76" font-size="5.0" stroke="#ffffff" stroke-width="0.08" stroke-opacity="0.95" text-anchor="end" fill="#ffffff" transform="rotate(-90 156.05 428.76)" fill-opacity="0.95">0.764</text>
<text x="156.19" y="543.00" font-size="5.25" fill="#ffffff" transform="rotate(-90 156.19 543.00)" fill-opacity="0.85">F1-score</text>
<rect x="163.72" y="441.49" width="6.45" height="103.51" fill="#fdae6b" />
<rect x="170.17" y="401.55" width="5.90" height="143.45" fill="#fd8d3c" />
<rect x="176.07" y="424.73" width="5.70" height="120.27" fill="#e6550d" />
<rect x="169.77" y="441.49" width="0.80" height="103.51" fill="#ffffff" fill-opacity="0.4"/>
<rect x="175.67" y="424.73" width="0.80" height="120.27" fill="#ffffff" fill-opacity="0.4"/>
<text x="168.69" y="444.89" font-size="5.0" stroke="#ffffff" stroke-width="0.08" stroke-opacity="0.95" text-anchor="end" fill="#ffffff" transform="rotate(-90 168.69 444.89)" fill-opacity="0.95">0.661</text>
<rect x="164.50" y="520.11" width="4.90" height="24.69" fill="#ffffff" fill-opacity="0.08"/>
<text x="168.83" y="543.00" font-size="5.25" fill="#ffffff" transform="rotate(-90 168.83 543.00)" fill-opacity="0.85">Precision</text>
<text x="174.87" y="404.95" font-size="5.0" stroke="#ffffff" stroke-width="0.08" stroke-opacity="0.95" text-anchor="end" fill="#ffffff" transform="rotate(-90 174.87 404.95)" fill-opacity="0.95">0.916</text>
<rect x="170.67" y="527.11" width="4.90" height="17.69" fill="#ffffff" fill-opacity="0.2"/>
<text x="175.01" y="543.00" font-size="5.25" fill="#ffffff" transform="rotate(-90 175.01 543.00)" fill-opacity="0.85">Recall</text>
<text x="180.67" y="428.13" font-size="5.0" stroke="#ffffff" stroke-width="0.08" stroke-opacity="0.95" text-anchor="end" fill="#ffffff" transform="rotate(-90 180.67 428.13)" fill-opacity="0.95">0.768</text>
<text x="180.81" y="543.00" font-size="5.25" fill="#ffffff" transform="rotate(-90 180.81 543.00)" fill-opacity="0.85">F1-score</text>
<rect x="188.34" y="447.28" width="6.45" height="97.72" fill="#a1d99b" />
<rect x="194.79" y="414.87" width="5.90" height="130.13" fill="#74c476" />
<rect x="200.69" y="433.34" width="5.70" height="111.66" fill="#31a354" />
<rect x="194.39" y="447.28" width="0.80" height="97.72" fill="#ffffff" fill-opacity="0.4"/>
<rect x="200.29" y="433.34" width="0.80" height="111.66" fill="#ffffff" fill-opacity="0.4"/>
<text x="193.31" y="450.68" font-size="5.0" stroke="#ffffff" stroke-width="0.08" stroke-opacity="0.95" text-anchor="end" fill="#ffffff" transform="rotate(-90 193.31 450.68)" fill-opacity="0.95">0.624</text>
<rect x="189.12" y="520.11" width="4.90" height="24.69" fill="#ffffff" fill-opacity="0.08"/>
<text x="193.45" y="543.00" font-size="5.25" fill="#ffffff" transform="rotate(-90 193.45 543.00)" fill-opacity="0.85">Precision</text>
<text x="199.49" y="418.27" font-size="5.0" stroke="#ffffff" stroke-width="0.08" stroke-opacity="0.95" text-anchor="end" fill="#ffffff" transform="rotate(-90 199.49 418.27)" fill-opacity="0.95">0.831</text>
<rect x="195.29" y="527.11" width="4.90" height="17.69" fill="#ffffff" fill-opacity="0.2"/>
<text x="199.63" y="543.00" font-size="5.25" fill="#ffffff" transform="rotate(-90 199.63 543.00)" fill-opacity="0.85">Recall</text>
<text x="205.29" y="436.74" font-size="5.0" stroke="#ffffff" stroke-width="0.08" stroke-opacity="0.95" text-anchor="end" fill="#ffffff" transform="rotate(-90 205.29 436.74)" fill-opacity="0.95">0.713</text>
<text x="205.43" y="543.00" font-size="5.25" fill="#ffffff" transform="rotate(-90 205.43 543.00)" fill-opacity="0.85">F1-score</text>
<rect x="212.96" y="451.20" width="6.45" height="93.80" fill="#bcbddc" />
<rect x="219.41" y="401.55" width="5.90" height="143.45" fill="#9e9ac8" />
<rect x="225.31" y="431.47" width="5.70" height="113.53" fill="#756bb1" />
<rect x="219.01" y="451.20" width="0.80" height="93.80" fill="#ffffff" fill-opacity="0.4"/>
<rect x="224.91" y="431.47" width="0.80" height="113.53" fill="#ffffff" fill-opacity="0.4"/>
<text x="217.93" y="454.60" font-size="5.0" stroke="#ffffff" stroke-width="0.08" stroke-opacity="0.95" text-anchor="end" fill="#ffffff" transform="rotate(-90 217.93 454.60)" fill-opacity="0.95">0.599</text>
<rect x="213.73" y="520.11" width="4.90" height="24.69" fill="#ffffff" fill-opacity="0.08"/>
<text x="218.07" y="543.00" font-size="5.25" fill="#ffffff" transform="rotate(-90 218.07 543.00)" fill-opacity="0.85">Precision</text>
<text x="224.11" y="404.95" font-size="5.0" stroke="#ffffff" stroke-width="0.08" stroke-opacity="0.95" text-anchor="end" fill="#ffffff" transform="rotate(-90 224.11 404.95)" fill-opacity="0.95">0.916</text>
<rect x="219.91" y="527.11" width="4.90" height="17.69" fill="#ffffff" fill-opacity="0.2"/>
<text x="224.25" y="543.00" font-size="5.25" fill="#ffffff" transform="rotate(-90 224.25 543.00)" fill-opacity="0.85">Recall</text>
<text x="229.91" y="434.87" font-size="5.0" stroke="#ffffff" stroke-width="0.08" stroke-opacity="0.95" text-anchor="end" fill="#ffffff" transform="rotate(-90 229.91 434.87)" fill-opacity="0.95">0.725</text>
<text x="230.05" y="543.00" font-size="5.25" fill="#ffffff" transform="rotate(-90 230.05 543.00)" fill-opacity="0.85">F1-score</text>
<text x="173.40" y="549.50" font-size="4.95" stroke="#222222" stroke-width="0.1" text-anchor="middle">T50x</text>
<rect x="237.15" y="442.27" width="6.45" height="102.73" fill="#9ecae1" />
<rect x="243.60" y="402.02" width="5.90" height="142.98" fill="#6baed6" />
<rect x="249.50" y="425.51" width="5.70" height="119.49" fill="#3182bd" />
<rect x="243.20" y="442.27" width="0.80" height="102.73" fill="#ffffff" fill-opacity="0.4"/>
<rect x="249.10" y="425.51" width="0.80" height="119.49" fill="#ffffff" fill-opacity="0.4"/>
<text x="242.12" y="445.67" font-size="5.0" stroke="#ffffff" stroke-width="0.08" stroke-opacity="0.95" text-anchor="end" fill="#ffffff" transform="rotate(-90 242.12 445.67)" fill-opacity="0.95">0.656</text>
<rect x="237.92" y="520.11" width="4.90" height="24.69" fill="#ffffff" fill-opacity="0.08"/>
<text x="242.26" y="543.00" font-size="5.25" fill="#ffffff" transform="rotate(-90 242.26 543.00)" fill-opacity="0.85">Precision</text>
<text x="248.30" y="405.42" font-size="5.0" stroke="#ffffff" stroke-width="0.08" stroke-opacity="0.95" text-anchor="end" fill="#ffffff" transform="rotate(-90 248.30 405.42)" fill-opacity="0.95">0.913</text>
<rect x="244.10" y="527.11" width="4.90" height="17.69" fill="#ffffff" fill-opacity="0.2"/>
<text x="248.44" y="543.00" font-size="5.25" fill="#ffffff" transform="rotate(-90 248.44 543.00)" fill-opacity="0.85">Recall</text>
<text x="254.10" y="428.91" font-size="5.0" stroke="#ffffff" stroke-width="0.08" stroke-opacity="0.95" text-anchor="end" fill="#ffffff" transform="rotate(-90 254.10 428.91)" fill-opacity="0.95">0.763</text>
<text x="254.24" y="543.00" font-size="5.25" fill="#ffffff" transform="rotate(-90 254.24 543.00)" fill-opacity="0.85">F1-score</text>
<rect x="261.77" y="441.02" width="6.45" height="103.98" fill="#fdae6b" />
<rect x="268.22" y="403.12" width="5.90" height="141.88" fill="#fd8d3c" />
<rect x="274.12" y="424.89" width="5.70" height="120.11" fill="#e6550d" />
<rect x="267.82" y="441.02" width="0.80" height="103.98" fill="#ffffff" fill-opacity="0.4"/>
<rect x="273.72" y="424.89" width="0.80" height="120.11" fill="#ffffff" fill-opacity="0.4"/>
<text x="266.75" y="444.42" font-size="5.0" stroke="#ffffff" stroke-width="0.08" stroke-opacity="0.95" text-anchor="end" fill="#ffffff" transform="rotate(-90 266.75 444.42)" fill-opacity="0.95">0.664</text>
<rect x="262.55" y="520.11" width="4.90" height="24.69" fill="#ffffff" fill-opacity="0.08"/>
<text x="266.88" y="543.00" font-size="5.25" fill="#ffffff" transform="rotate(-90 266.88 543.00)" fill-opacity="0.85">Precision</text>
<text x="272.92" y="406.52" font-size="5.0" stroke="#ffffff" stroke-width="0.08" stroke-opacity="0.95" text-anchor="end" fill="#ffffff" transform="rotate(-90 272.92 406.52)" fill-opacity="0.95">0.906</text>
<rect x="268.72" y="527.11" width="4.90" height="17.69" fill="#ffffff" fill-opacity="0.2"/>
<text x="273.06" y="543.00" font-size="5.25" fill="#ffffff" transform="rotate(-90 273.06 543.00)" fill-opacity="0.85">Recall</text>
<text x="278.72" y="428.29" font-size="5.0" stroke="#ffffff" stroke-width="0.08" stroke-opacity="0.95" text-anchor="end" fill="#ffffff" transform="rotate(-90 278.72 428.29)" fill-opacity="0.95">0.767</text>
<text x="278.86" y="543.00" font-size="5.25" fill="#ffffff" transform="rotate(-90 278.86 543.00)" fill-opacity="0.85">F1-score</text>
<rect x="286.39" y="452.76" width="6.45" height="92.24" fill="#a1d99b" />
<rect x="292.84" y="417.84" width="5.90" height="127.16" fill="#74c476" />
<rect x="298.74" y="438.04" width="5.70" height="106.96" fill="#31a354" />
<rect x="292.44" y="452.76" width="0.80" height="92.24" fill="#ffffff" fill-opacity="0.4"/>
<rect x="298.34" y="438.04" width="0.80" height="106.96" fill="#ffffff" fill-opacity="0.4"/>
<text x="291.37" y="456.16" font-size="5.0" stroke="#ffffff" stroke-width="0.08" stroke-opacity="0.95" text-anchor="end" fill="#ffffff" transform="rotate(-90 291.37 456.16)" fill-opacity="0.95">0.589</text>
<rect x="287.17" y="520.11" width="4.90" height="24.69" fill="#ffffff" fill-opacity="0.08"/>
<text x="291.50" y="543.00" font-size="5.25" fill="#ffffff" transform="rotate(-90 291.50 543.00)" fill-opacity="0.85">Precision</text>
<text x="297.54" y="421.24" font-size="5.0" stroke="#ffffff" stroke-width="0.08" stroke-opacity="0.95" text-anchor="end" fill="#ffffff" transform="rotate(-90 297.54 421.24)" fill-opacity="0.95">0.812</text>
<rect x="293.34" y="527.11" width="4.90" height="17.69" fill="#ffffff" fill-opacity="0.2"/>
<text x="297.68" y="543.00" font-size="5.25" fill="#ffffff" transform="rotate(-90 297.68 543.00)" fill-opacity="0.85">Recall</text>
<text x="303.34" y="441.44" font-size="5.0" stroke="#ffffff" stroke-width="0.08" stroke-opacity="0.95" text-anchor="end" fill="#ffffff" transform="rotate(-90 303.34 441.44)" fill-opacity="0.95">0.683</text>
<text x="303.48" y="543.00" font-size="5.25" fill="#ffffff" transform="rotate(-90 303.48 543.00)" fill-opacity="0.85">F1-score</text>
<rect x="311.01" y="453.39" width="6.45" height="91.61" fill="#bcbddc" />
<rect x="317.46" y="407.35" width="5.90" height="137.65" fill="#9e9ac8" />
<rect x="323.36" y="434.91" width="5.70" height="110.09" fill="#756bb1" />
<rect x="317.06" y="453.39" width="0.80" height="91.61" fill="#ffffff" fill-opacity="0.4"/>
<rect x="322.96" y="434.91" width="0.80" height="110.09" fill="#ffffff" fill-opacity="0.4"/>
<text x="315.99" y="456.79" font-size="5.0" stroke="#ffffff" stroke-width="0.08" stroke-opacity="0.95" text-anchor="end" fill="#ffffff" transform="rotate(-90 315.99 456.79)" fill-opacity="0.95">0.585</text>
<rect x="311.79" y="520.11" width="4.90" height="24.69" fill="#ffffff" fill-opacity="0.08"/>
<text x="316.12" y="543.00" font-size="5.25" fill="#ffffff" transform="rotate(-90 316.12 543.00)" fill-opacity="0.85">Precision</text>
<text x="322.16" y="410.75" font-size="5.0" stroke="#ffffff" stroke-width="0.08" stroke-opacity="0.95" text-anchor="end" fill="#ffffff" transform="rotate(-90 322.16 410.75)" fill-opacity="0.95">0.879</text>
<rect x="317.96" y="527.11" width="4.90" height="17.69" fill="#ffffff" fill-opacity="0.2"/>
<text x="322.30" y="543.00" font-size="5.25" fill="#ffffff" transform="rotate(-90 322.30 543.00)" fill-opacity="0.85">Recall</text>
<text x="327.96" y="438.31" font-size="5.0" stroke="#ffffff" stroke-width="0.08" stroke-opacity="0.95" text-anchor="end" fill="#ffffff" transform="rotate(-90 327.96 438.31)" fill-opacity="0.95">0.703</text>
<text x="328.10" y="543.00" font-size="5.25" fill="#ffffff" transform="rotate(-90 328.10 543.00)" fill-opacity="0.85">F1-score</text>
<text x="271.45" y="549.50" font-size="4.95" stroke="#222222" stroke-width="0.1" text-anchor="middle">T25x</text>
<line x1="27.60" y1="545.00" x2="343.60" y2="545.00" stroke="#c8c8c8" stroke-width="1.0" />
<line x1="27.60" y1="388.20" x2="27.60" y2="545.00" stroke="#555555" stroke-width="0.9" />
<line x1="26.40" y1="545.00" x2="27.60" y2="545.00" stroke="#555" stroke-width="0.6" />
<text x="26.30" y="546.55" font-size="4.4" stroke="#222222" stroke-width="0.1" text-anchor="end">0.0</text>
<line x1="26.40" y1="513.68" x2="27.60" y2="513.68" stroke="#555" stroke-width="0.6" />
<text x="26.30" y="515.23" font-size="4.4" stroke="#222222" stroke-width="0.1" text-anchor="end">0.2</text>
<line x1="26.40" y1="482.36" x2="27.60" y2="482.36" stroke="#555" stroke-width="0.6" />
<text x="26.30" y="483.91" font-size="4.4" stroke="#222222" stroke-width="0.1" text-anchor="end">0.4</text>
<line x1="26.40" y1="451.04" x2="27.60" y2="451.04" stroke="#555" stroke-width="0.6" />
<text x="26.30" y="452.59" font-size="4.4" stroke="#222222" stroke-width="0.1" text-anchor="end">0.6</text>
<line x1="26.40" y1="419.72" x2="27.60" y2="419.72" stroke="#555" stroke-width="0.6" />
<text x="26.30" y="421.27" font-size="4.4" stroke="#222222" stroke-width="0.1" text-anchor="end">0.8</text>
<line x1="26.40" y1="388.40" x2="27.60" y2="388.40" stroke="#555" stroke-width="0.6" />
<text x="26.30" y="389.95" font-size="4.4" stroke="#222222" stroke-width="0.1" text-anchor="end">1.0</text>
<text x="185.10" y="384.90" font-size="5.95" stroke="#222222" stroke-width="0.1" text-anchor="middle">SNV performance on ONT COLO829</text>
<text x="16.20" y="466.50" font-size="4.8" stroke="#222222" stroke-width="0.1" text-anchor="middle" transform="rotate(-90 16.20 466.50)">Values</text>
<line x1="368.50" y1="388.20" x2="684.40" y2="388.20" stroke="#b0b0b0" stroke-width="0.9" />
<line x1="684.40" y1="388.20" x2="684.40" y2="545.00" stroke="#8a8a8a" stroke-width="0.9" />
<line x1="380.00" y1="521.10" x2="380.00" y2="545.00" stroke="#6a6a6a" stroke-width="0.8" />
<line x1="477.00" y1="521.10" x2="477.00" y2="545.00" stroke="#6a6a6a" stroke-width="0.8" />
<line x1="575.10" y1="521.10" x2="575.10" y2="545.00" stroke="#6a6a6a" stroke-width="0.8" />
<line x1="673.10" y1="521.10" x2="673.10" y2="545.00" stroke="#6a6a6a" stroke-width="0.8" />
<rect x="382.55" y="493.84" width="6.45" height="51.16" fill="#9ecae1" />
<rect x="389.00" y="417.89" width="5.90" height="127.11" fill="#6baed6" />
<rect x="394.90" y="471.92" width="5.70" height="73.08" fill="#3182bd" />
<rect x="388.60" y="493.84" width="0.80" height="51.16" fill="#ffffff" fill-opacity="0.4"/>
<rect x="394.50" y="471.92" width="0.80" height="73.08" fill="#ffffff" fill-opacity="0.4"/>
<text x="387.53" y="497.24" font-size="5.0" stroke="#ffffff" stroke-width="0.08" stroke-opacity="0.95" text-anchor="end" fill="#ffffff" transform="rotate(-90 387.53 497.24)" fill-opacity="0.95">0.196</text>
<rect x="383.33" y="520.11" width="4.90" height="24.69" fill="#ffffff" fill-opacity="0.08"/>
<text x="387.67" y="543.00" font-size="5.25" fill="#ffffff" transform="rotate(-90 387.67 543.00)" fill-opacity="0.85">Precision</text>
<text x="393.70" y="421.29" font-size="5.0" stroke="#ffffff" stroke-width="0.08" stroke-opacity="0.95" text-anchor="end" fill="#ffffff" transform="rotate(-90 393.70 421.29)" fill-opacity="0.95">0.487</text>
<rect x="389.50" y="527.11" width="4.90" height="17.69" fill="#ffffff" fill-opacity="0.2"/>
<text x="393.84" y="543.00" font-size="5.25" fill="#ffffff" transform="rotate(-90 393.84 543.00)" fill-opacity="0.85">Recall</text>
<text x="399.50" y="475.32" font-size="5.0" stroke="#ffffff" stroke-width="0.08" stroke-opacity="0.95" text-anchor="end" fill="#ffffff" transform="rotate(-90 399.50 475.32)" fill-opacity="0.95">0.280</text>
<text x="399.64" y="543.00" font-size="5.25" fill="#ffffff" transform="rotate(-90 399.64 543.00)" fill-opacity="0.85">F1-score</text>
<rect x="407.17" y="492.02" width="6.45" height="52.98" fill="#fdae6b" />
<rect x="413.62" y="409.80" width="5.90" height="135.20" fill="#fd8d3c" />
<rect x="419.52" y="468.79" width="5.70" height="76.21" fill="#e6550d" />
<rect x="413.22" y="492.02" width="0.80" height="52.98" fill="#ffffff" fill-opacity="0.4"/>
<rect x="419.12" y="468.79" width="0.80" height="76.21" fill="#ffffff" fill-opacity="0.4"/>
<text x="412.15" y="495.42" font-size="5.0" stroke="#ffffff" stroke-width="0.08" stroke-opacity="0.95" text-anchor="end" fill="#ffffff" transform="rotate(-90 412.15 495.42)" fill-opacity="0.95">0.203</text>
<rect x="407.95" y="520.11" width="4.90" height="24.69" fill="#ffffff" fill-opacity="0.08"/>
<text x="412.29" y="543.00" font-size="5.25" fill="#ffffff" transform="rotate(-90 412.29 543.00)" fill-opacity="0.85">Precision</text>
<text x="418.32" y="413.20" font-size="5.0" stroke="#ffffff" stroke-width="0.08" stroke-opacity="0.95" text-anchor="end" fill="#ffffff" transform="rotate(-90 418.32 413.20)" fill-opacity="0.95">0.518</text>
<rect x="414.12" y="527.11" width="4.90" height="17.69" fill="#ffffff" fill-opacity="0.2"/>
<text x="418.46" y="543.00" font-size="5.25" fill="#ffffff" transform="rotate(-90 418.46 543.00)" fill-opacity="0.85">Recall</text>
<text x="424.12" y="472.19" font-size="5.0" stroke="#ffffff" stroke-width="0.08" stroke-opacity="0.95" text-anchor="end" fill="#ffffff" transform="rotate(-90 424.12 472.19)" fill-opacity="0.95">0.292</text>
<text x="424.26" y="543.00" font-size="5.25" fill="#ffffff" transform="rotate(-90 424.26 543.00)" fill-opacity="0.85">F1-score</text>
<rect x="431.79" y="508.46" width="6.45" height="36.54" fill="#a1d99b" />
<rect x="438.24" y="458.87" width="5.90" height="86.13" fill="#74c476" />
<rect x="444.14" y="493.84" width="5.70" height="51.16" fill="#31a354" />
<rect x="437.84" y="508.46" width="0.80" height="36.54" fill="#ffffff" fill-opacity="0.4"/>
<rect x="443.74" y="493.84" width="0.80" height="51.16" fill="#ffffff" fill-opacity="0.4"/>
<text x="436.77" y="506.66" font-size="5.0" stroke="#111" stroke-width="0.05" fill="#111" transform="rotate(-90 436.77 506.66)">0.140</text>
<rect x="432.57" y="520.11" width="4.90" height="24.69" fill="#ffffff" fill-opacity="0.08"/>
<text x="436.91" y="543.00" font-size="5.25" fill="#ffffff" transform="rotate(-90 436.91 543.00)" fill-opacity="0.85">Precision</text>
<text x="442.94" y="462.27" font-size="5.0" stroke="#ffffff" stroke-width="0.08" stroke-opacity="0.95" text-anchor="end" fill="#ffffff" transform="rotate(-90 442.94 462.27)" fill-opacity="0.95">0.330</text>
<rect x="438.74" y="527.11" width="4.90" height="17.69" fill="#ffffff" fill-opacity="0.2"/>
<text x="443.08" y="543.00" font-size="5.25" fill="#ffffff" transform="rotate(-90 443.08 543.00)" fill-opacity="0.85">Recall</text>
<text x="448.74" y="497.24" font-size="5.0" stroke="#ffffff" stroke-width="0.08" stroke-opacity="0.95" text-anchor="end" fill="#ffffff" transform="rotate(-90 448.74 497.24)" fill-opacity="0.95">0.196</text>
<text x="448.88" y="543.00" font-size="5.25" fill="#ffffff" transform="rotate(-90 448.88 543.00)" fill-opacity="0.85">F1-score</text>
<rect x="456.41" y="516.03" width="6.45" height="28.97" fill="#bcbddc" />
<rect x="462.86" y="508.72" width="5.90" height="36.28" fill="#9e9ac8" />
<rect x="468.76" y="512.90" width="5.70" height="32.10" fill="#756bb1" />
<rect x="462.46" y="516.03" width="0.80" height="28.97" fill="#ffffff" fill-opacity="0.4"/>
<rect x="468.36" y="512.90" width="0.80" height="32.10" fill="#ffffff" fill-opacity="0.4"/>
<text x="461.39" y="514.23" font-size="5.0" stroke="#111" stroke-width="0.05" fill="#111" transform="rotate(-90 461.39 514.23)">0.111</text>
<rect x="457.19" y="520.11" width="4.90" height="24.69" fill="#ffffff" fill-opacity="0.08"/>
<text x="461.53" y="543.00" font-size="5.25" fill="#ffffff" transform="rotate(-90 461.53 543.00)" fill-opacity="0.85">Precision</text>
<text x="467.56" y="506.92" font-size="5.0" stroke="#111" stroke-width="0.05" fill="#111" transform="rotate(-90 467.56 506.92)">0.139</text>
<rect x="463.36" y="527.11" width="4.90" height="17.69" fill="#ffffff" fill-opacity="0.2"/>
<text x="467.70" y="543.00" font-size="5.25" fill="#ffffff" transform="rotate(-90 467.70 543.00)" fill-opacity="0.85">Recall</text>
<text x="473.36" y="511.10" font-size="5.0" stroke="#111" stroke-width="0.05" fill="#111" transform="rotate(-90 473.36 511.10)">0.123</text>
<text x="473.50" y="543.00" font-size="5.25" fill="#ffffff" transform="rotate(-90 473.50 543.00)" fill-opacity="0.85">F1-score</text>
<text x="416.85" y="549.50" font-size="4.95" stroke="#222222" stroke-width="0.1" text-anchor="middle">T75x</text>
<rect x="480.60" y="493.06" width="6.45" height="51.94" fill="#9ecae1" />
<rect x="487.05" y="417.37" width="5.90" height="127.63" fill="#6baed6" />
<rect x="492.95" y="471.92" width="5.70" height="73.08" fill="#3182bd" />
<rect x="486.65" y="493.06" width="0.80" height="51.94" fill="#ffffff" fill-opacity="0.4"/>
<rect x="492.55" y="471.92" width="0.80" height="73.08" fill="#ffffff" fill-opacity="0.4"/>
<text x="485.58" y="496.46" font-size="5.0" stroke="#ffffff" stroke-width="0.08" stroke-opacity="0.95" text-anchor="end" fill="#ffffff" transform="rotate(-90 485.58 496.46)" fill-opacity="0.95">0.199</text>
<rect x="481.38" y="520.11" width="4.90" height="24.69" fill="#ffffff" fill-opacity="0.08"/>
<text x="485.72" y="543.00" font-size="5.25" fill="#ffffff" transform="rotate(-90 485.72 543.00)" fill-opacity="0.85">Precision</text>
<text x="491.75" y="420.77" font-size="5.0" stroke="#ffffff" stroke-width="0.08" stroke-opacity="0.95" text-anchor="end" fill="#ffffff" transform="rotate(-90 491.75 420.77)" fill-opacity="0.95">0.489</text>
<rect x="487.55" y="527.11" width="4.90" height="17.69" fill="#ffffff" fill-opacity="0.2"/>
<text x="491.89" y="543.00" font-size="5.25" fill="#ffffff" transform="rotate(-90 491.89 543.00)" fill-opacity="0.85">Recall</text>
<text x="497.55" y="475.32" font-size="5.0" stroke="#ffffff" stroke-width="0.08" stroke-opacity="0.95" text-anchor="end" fill="#ffffff" transform="rotate(-90 497.55 475.32)" fill-opacity="0.95">0.280</text>
<text x="497.69" y="543.00" font-size="5.25" fill="#ffffff" transform="rotate(-90 497.69 543.00)" fill-opacity="0.85">F1-score</text>
<rect x="505.22" y="493.58" width="6.45" height="51.42" fill="#fdae6b" />
<rect x="511.67" y="415.54" width="5.90" height="129.46" fill="#fd8d3c" />
<rect x="517.57" y="471.40" width="5.70" height="73.60" fill="#e6550d" />
<rect x="511.27" y="493.58" width="0.80" height="51.42" fill="#ffffff" fill-opacity="0.4"/>
<rect x="517.17" y="471.40" width="0.80" height="73.60" fill="#ffffff" fill-opacity="0.4"/>
<text x="510.20" y="496.98" font-size="5.0" stroke="#ffffff" stroke-width="0.08" stroke-opacity="0.95" text-anchor="end" fill="#ffffff" transform="rotate(-90 510.20 496.98)" fill-opacity="0.95">0.197</text>
<rect x="506.00" y="520.11" width="4.90" height="24.69" fill="#ffffff" fill-opacity="0.08"/>
<text x="510.34" y="543.00" font-size="5.25" fill="#ffffff" transform="rotate(-90 510.34 543.00)" fill-opacity="0.85">Precision</text>
<text x="516.37" y="418.94" font-size="5.0" stroke="#ffffff" stroke-width="0.08" stroke-opacity="0.95" text-anchor="end" fill="#ffffff" transform="rotate(-90 516.37 418.94)" fill-opacity="0.95">0.496</text>
<rect x="512.17" y="527.11" width="4.90" height="17.69" fill="#ffffff" fill-opacity="0.2"/>
<text x="516.51" y="543.00" font-size="5.25" fill="#ffffff" transform="rotate(-90 516.51 543.00)" fill-opacity="0.85">Recall</text>
<text x="522.17" y="474.80" font-size="5.0" stroke="#ffffff" stroke-width="0.08" stroke-opacity="0.95" text-anchor="end" fill="#ffffff" transform="rotate(-90 522.17 474.80)" fill-opacity="0.95">0.282</text>
<text x="522.31" y="543.00" font-size="5.25" fill="#ffffff" transform="rotate(-90 522.31 543.00)" fill-opacity="0.85">F1-score</text>
<rect x="529.84" y="511.07" width="6.45" height="33.93" fill="#a1d99b" />
<rect x="536.29" y="450.52" width="5.90" height="94.48" fill="#74c476" />
<rect x="542.19" y="495.15" width="5.70" height="49.85" fill="#31a354" />
<rect x="535.89" y="511.07" width="0.80" height="33.93" fill="#ffffff" fill-opacity="0.4"/>
<rect x="541.79" y="495.15" width="0.80" height="49.85" fill="#ffffff" fill-opacity="0.4"/>
<text x="534.82" y="509.27" font-size="5.0" stroke="#111" stroke-width="0.05" fill="#111" transform="rotate(-90 534.82 509.27)">0.130</text>
<rect x="530.62" y="520.11" width="4.90" height="24.69" fill="#ffffff" fill-opacity="0.08"/>
<text x="534.96" y="543.00" font-size="5.25" fill="#ffffff" transform="rotate(-90 534.96 543.00)" fill-opacity="0.85">Precision</text>
<text x="540.99" y="453.92" font-size="5.0" stroke="#ffffff" stroke-width="0.08" stroke-opacity="0.95" text-anchor="end" fill="#ffffff" transform="rotate(-90 540.99 453.92)" fill-opacity="0.95">0.362</text>
<rect x="536.79" y="527.11" width="4.90" height="17.69" fill="#ffffff" fill-opacity="0.2"/>
<text x="541.13" y="543.00" font-size="5.25" fill="#ffffff" transform="rotate(-90 541.13 543.00)" fill-opacity="0.85">Recall</text>
<text x="546.79" y="498.55" font-size="5.0" stroke="#ffffff" stroke-width="0.08" stroke-opacity="0.95" text-anchor="end" fill="#ffffff" transform="rotate(-90 546.79 498.55)" fill-opacity="0.95">0.191</text>
<text x="546.93" y="543.00" font-size="5.25" fill="#ffffff" transform="rotate(-90 546.93 543.00)" fill-opacity="0.85">F1-score</text>
<rect x="554.46" y="518.12" width="6.45" height="26.88" fill="#bcbddc" />
<rect x="560.91" y="509.76" width="5.90" height="35.23" fill="#9e9ac8" />
<rect x="566.81" y="514.46" width="5.70" height="30.54" fill="#756bb1" />
<rect x="560.51" y="518.12" width="0.80" height="26.88" fill="#ffffff" fill-opacity="0.4"/>
<rect x="566.41" y="514.46" width="0.80" height="30.54" fill="#ffffff" fill-opacity="0.4"/>
<text x="559.44" y="516.32" font-size="5.0" stroke="#111" stroke-width="0.05" fill="#111" transform="rotate(-90 559.44 516.32)">0.103</text>
<rect x="555.24" y="520.11" width="4.90" height="24.69" fill="#ffffff" fill-opacity="0.08"/>
<text x="559.58" y="543.00" font-size="5.25" fill="#ffffff" transform="rotate(-90 559.58 543.00)" fill-opacity="0.85">Precision</text>
<text x="565.61" y="507.96" font-size="5.0" stroke="#111" stroke-width="0.05" fill="#111" transform="rotate(-90 565.61 507.96)">0.135</text>
<rect x="561.41" y="527.11" width="4.90" height="17.69" fill="#ffffff" fill-opacity="0.2"/>
<text x="565.75" y="543.00" font-size="5.25" fill="#ffffff" transform="rotate(-90 565.75 543.00)" fill-opacity="0.85">Recall</text>
<text x="571.41" y="512.66" font-size="5.0" stroke="#111" stroke-width="0.05" fill="#111" transform="rotate(-90 571.41 512.66)">0.117</text>
<text x="571.55" y="543.00" font-size="5.25" fill="#ffffff" transform="rotate(-90 571.55 543.00)" fill-opacity="0.85">F1-score</text>
<text x="514.90" y="549.50" font-size="4.95" stroke="#222222" stroke-width="0.1" text-anchor="middle">T50x</text>
<rect x="578.65" y="496.72" width="6.45" height="48.28" fill="#9ecae1" />
<rect x="585.10" y="419.98" width="5.90" height="125.02" fill="#6baed6" />
<rect x="591.00" y="475.31" width="5.70" height="69.69" fill="#3182bd" />
<rect x="584.70" y="496.72" width="0.80" height="48.28" fill="#ffffff" fill-opacity="0.4"/>
<rect x="590.60" y="475.31" width="0.80" height="69.69" fill="#ffffff" fill-opacity="0.4"/>
<text x="583.62" y="500.12" font-size="5.0" stroke="#ffffff" stroke-width="0.08" stroke-opacity="0.95" text-anchor="end" fill="#ffffff" transform="rotate(-90 583.62 500.12)" fill-opacity="0.95">0.185</text>
<rect x="579.42" y="520.11" width="4.90" height="24.69" fill="#ffffff" fill-opacity="0.08"/>
<text x="583.76" y="543.00" font-size="5.25" fill="#ffffff" transform="rotate(-90 583.76 543.00)" fill-opacity="0.85">Precision</text>
<text x="589.80" y="423.38" font-size="5.0" stroke="#ffffff" stroke-width="0.08" stroke-opacity="0.95" text-anchor="end" fill="#ffffff" transform="rotate(-90 589.80 423.38)" fill-opacity="0.95">0.479</text>
<rect x="585.60" y="527.11" width="4.90" height="17.69" fill="#ffffff" fill-opacity="0.2"/>
<text x="589.94" y="543.00" font-size="5.25" fill="#ffffff" transform="rotate(-90 589.94 543.00)" fill-opacity="0.85">Recall</text>
<text x="595.60" y="478.71" font-size="5.0" stroke="#ffffff" stroke-width="0.08" stroke-opacity="0.95" text-anchor="end" fill="#ffffff" transform="rotate(-90 595.60 478.71)" fill-opacity="0.95">0.267</text>
<text x="595.74" y="543.00" font-size="5.25" fill="#ffffff" transform="rotate(-90 595.74 543.00)" fill-opacity="0.85">F1-score</text>
<rect x="603.27" y="494.63" width="6.45" height="50.37" fill="#fdae6b" />
<rect x="609.72" y="425.98" width="5.90" height="119.02" fill="#fd8d3c" />
<rect x="615.62" y="474.27" width="5.70" height="70.73" fill="#e6550d" />
<rect x="609.32" y="494.63" width="0.80" height="50.37" fill="#ffffff" fill-opacity="0.4"/>
<rect x="615.22" y="474.27" width="0.80" height="70.73" fill="#ffffff" fill-opacity="0.4"/>
<text x="608.25" y="498.03" font-size="5.0" stroke="#ffffff" stroke-width="0.08" stroke-opacity="0.95" text-anchor="end" fill="#ffffff" transform="rotate(-90 608.25 498.03)" fill-opacity="0.95">0.193</text>
<rect x="604.04" y="520.11" width="4.90" height="24.69" fill="#ffffff" fill-opacity="0.08"/>
<text x="608.38" y="543.00" font-size="5.25" fill="#ffffff" transform="rotate(-90 608.38 543.00)" fill-opacity="0.85">Precision</text>
<text x="614.42" y="429.38" font-size="5.0" stroke="#ffffff" stroke-width="0.08" stroke-opacity="0.95" text-anchor="end" fill="#ffffff" transform="rotate(-90 614.42 429.38)" fill-opacity="0.95">0.456</text>
<rect x="610.22" y="527.11" width="4.90" height="17.69" fill="#ffffff" fill-opacity="0.2"/>
<text x="614.56" y="543.00" font-size="5.25" fill="#ffffff" transform="rotate(-90 614.56 543.00)" fill-opacity="0.85">Recall</text>
<text x="620.22" y="477.67" font-size="5.0" stroke="#ffffff" stroke-width="0.08" stroke-opacity="0.95" text-anchor="end" fill="#ffffff" transform="rotate(-90 620.22 477.67)" fill-opacity="0.95">0.271</text>
<text x="620.36" y="543.00" font-size="5.25" fill="#ffffff" transform="rotate(-90 620.36 543.00)" fill-opacity="0.85">F1-score</text>
<rect x="627.89" y="522.03" width="6.45" height="22.97" fill="#a1d99b" />
<rect x="634.34" y="451.82" width="5.90" height="93.18" fill="#74c476" />
<rect x="640.24" y="508.20" width="5.70" height="36.80" fill="#31a354" />
<rect x="633.94" y="522.03" width="0.80" height="22.97" fill="#ffffff" fill-opacity="0.4"/>
<rect x="639.84" y="508.20" width="0.80" height="36.80" fill="#ffffff" fill-opacity="0.4"/>
<text x="632.87" y="520.23" font-size="5.0" stroke="#111" stroke-width="0.05" fill="#111" transform="rotate(-90 632.87 520.23)">0.088</text>
<text x="639.04" y="455.22" font-size="5.0" stroke="#ffffff" stroke-width="0.08" stroke-opacity="0.95" text-anchor="end" fill="#ffffff" transform="rotate(-90 639.04 455.22)" fill-opacity="0.95">0.357</text>
<rect x="634.84" y="527.11" width="4.90" height="17.69" fill="#ffffff" fill-opacity="0.2"/>
<text x="639.18" y="543.00" font-size="5.25" fill="#ffffff" transform="rotate(-90 639.18 543.00)" fill-opacity="0.85">Recall</text>
<text x="644.84" y="506.40" font-size="5.0" stroke="#111" stroke-width="0.05" fill="#111" transform="rotate(-90 644.84 506.40)">0.141</text>
<text x="644.98" y="543.00" font-size="5.25" fill="#ffffff" transform="rotate(-90 644.98 543.00)" fill-opacity="0.85">F1-score</text>
<rect x="652.51" y="529.34" width="6.45" height="15.66" fill="#bcbddc" />
<rect x="658.96" y="490.71" width="5.90" height="54.29" fill="#9e9ac8" />
<rect x="664.86" y="520.73" width="5.70" height="24.27" fill="#756bb1" />
<rect x="658.56" y="529.34" width="0.80" height="15.66" fill="#ffffff" fill-opacity="0.4"/>
<rect x="664.46" y="520.73" width="0.80" height="24.27" fill="#ffffff" fill-opacity="0.4"/>
<text x="657.49" y="527.54" font-size="5.0" stroke="#111" stroke-width="0.05" fill="#111" transform="rotate(-90 657.49 527.54)">0.060</text>
<text x="663.66" y="494.11" font-size="5.0" stroke="#ffffff" stroke-width="0.08" stroke-opacity="0.95" text-anchor="end" fill="#ffffff" transform="rotate(-90 663.66 494.11)" fill-opacity="0.95">0.208</text>
<rect x="659.46" y="527.11" width="4.90" height="17.69" fill="#ffffff" fill-opacity="0.2"/>
<text x="663.80" y="543.00" font-size="5.25" fill="#ffffff" transform="rotate(-90 663.80 543.00)" fill-opacity="0.85">Recall</text>
<text x="669.46" y="518.93" font-size="5.0" stroke="#111" stroke-width="0.05" fill="#111" transform="rotate(-90 669.46 518.93)">0.093</text>
<text x="612.95" y="549.50" font-size="4.95" stroke="#222222" stroke-width="0.1" text-anchor="middle">T25x</text>
<line x1="368.50" y1="545.00" x2="684.40" y2="545.00" stroke="#c8c8c8" stroke-width="1.0" />
<line x1="368.50" y1="388.20" x2="368.50" y2="545.00" stroke="#555555" stroke-width="0.9" />
<line x1="367.30" y1="545.00" x2="368.50" y2="545.00" stroke="#555" stroke-width="0.6" />
<text x="367.20" y="546.55" font-size="4.4" stroke="#222222" stroke-width="0.1" text-anchor="end">0.0</text>
<line x1="367.30" y1="518.90" x2="368.50" y2="518.90" stroke="#555" stroke-width="0.6" />
<text x="367.20" y="520.45" font-size="4.4" stroke="#222222" stroke-width="0.1" text-anchor="end">0.1</text>
<line x1="367.30" y1="492.80" x2="368.50" y2="492.80" stroke="#555" stroke-width="0.6" />
<text x="367.20" y="494.35" font-size="4.4" stroke="#222222" stroke-width="0.1" text-anchor="end">0.2</text>
<line x1="367.30" y1="466.70" x2="368.50" y2="466.70" stroke="#555" stroke-width="0.6" />
<text x="367.20" y="468.25" font-size="4.4" stroke="#222222" stroke-width="0.1" text-anchor="end">0.3</text>
<line x1="367.30" y1="440.60" x2="368.50" y2="440.60" stroke="#555" stroke-width="0.6" />
<text x="367.20" y="442.15" font-size="4.4" stroke="#222222" stroke-width="0.1" text-anchor="end">0.4</text>
<line x1="367.30" y1="414.50" x2="368.50" y2="414.50" stroke="#555" stroke-width="0.6" />
<text x="367.20" y="416.05" font-size="4.4" stroke="#222222" stroke-width="0.1" text-anchor="end">0.5</text>
<line x1="367.30" y1="388.40" x2="368.50" y2="388.40" stroke="#555" stroke-width="0.6" />
<text x="367.20" y="389.95" font-size="4.4" stroke="#222222" stroke-width="0.1" text-anchor="end">0.6</text>
<text x="525.95" y="384.90" font-size="5.95" stroke="#222222" stroke-width="0.1" text-anchor="middle">Indel performance on ONT COLO829</text>
<text x="356.40" y="466.50" font-size="4.8" stroke="#222222" stroke-width="0.1" text-anchor="middle" transform="rotate(-90 356.40 466.50)">Values</text>
<rect x="221.90" y="564.10" width="13.70" height="4.60" fill="#9ecae1" />
<text x="240.00" y="568.50" font-size="6.1" stroke="#222222" stroke-width="0.1">ClairS-TO SS</text>
<rect x="289.30" y="564.10" width="13.70" height="4.60" fill="#fdae6b" />
<text x="307.00" y="568.50" font-size="6.1" stroke="#222222" stroke-width="0.1">ClairS-TO SSRS</text>
<rect x="364.50" y="564.10" width="13.70" height="4.60" fill="#a1d99b" />
<text x="382.90" y="568.50" font-size="6.1" stroke="#222222" stroke-width="0.1">Clair3</text>
<rect x="410.50" y="564.10" width="13.70" height="4.60" fill="#bcbddc" />
<text x="428.50" y="568.50" font-size="6.1" stroke="#222222" stroke-width="0.1">DeepSomatic</text>
</svg>
</body></html>
